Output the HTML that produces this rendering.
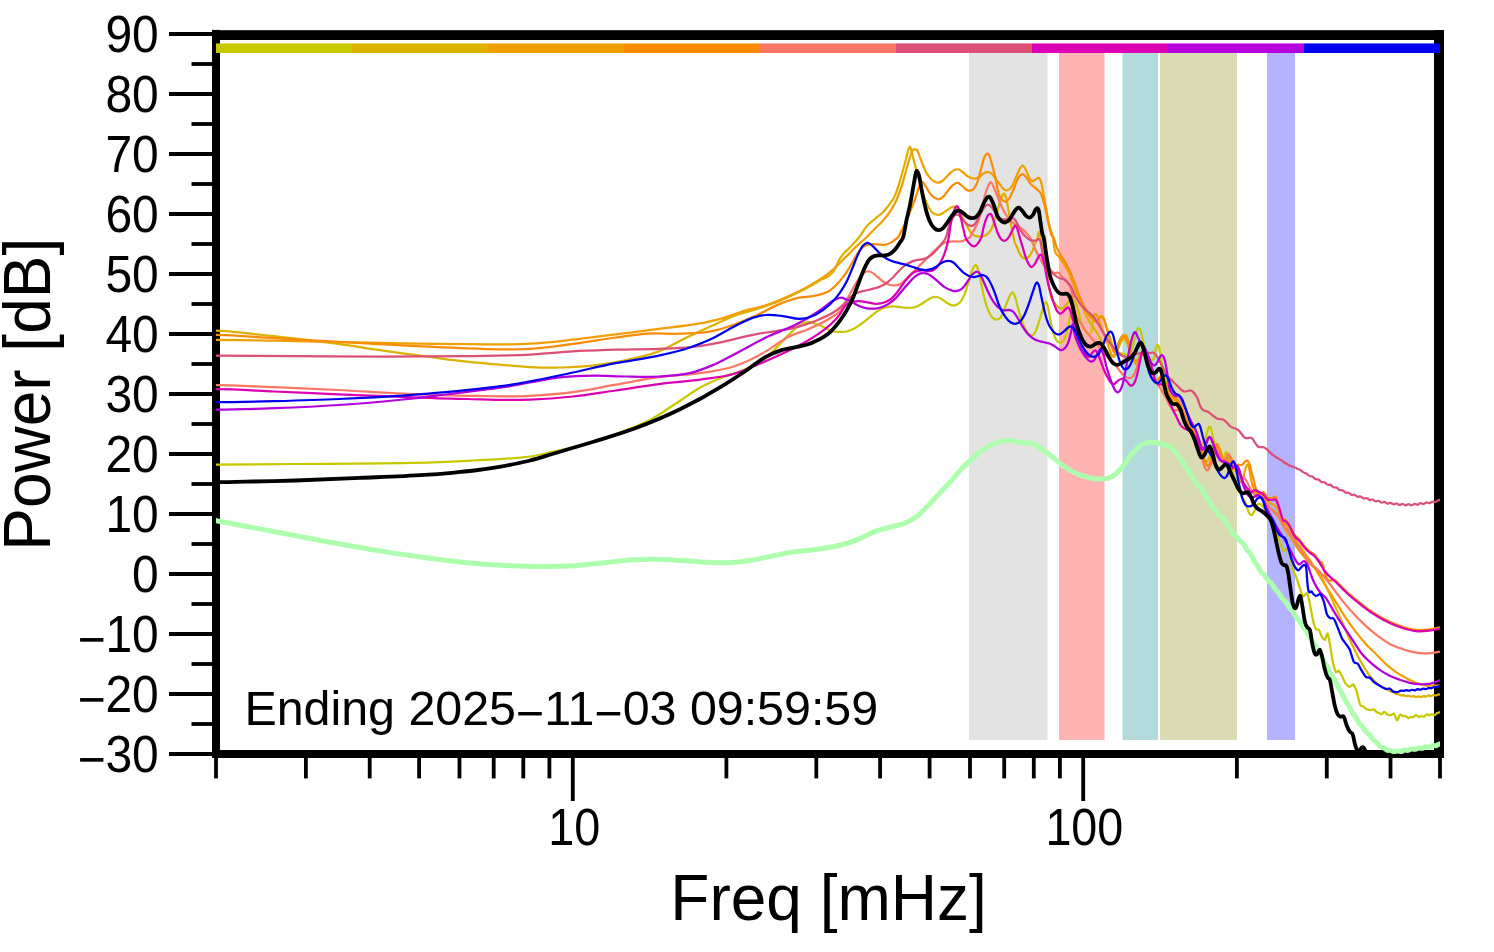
<!DOCTYPE html>
<html lang="en"><head><meta charset="utf-8"><title>Power spectrum</title>
<style>html,body{margin:0;padding:0;background:#fff;}body{width:1494px;height:952px;overflow:hidden;}svg{display:block;}text{font-family:"Liberation Sans",Arial,Helvetica,sans-serif;fill:#000;}</style></head><body>
<svg width="1494" height="952" viewBox="0 0 1494 952">
<rect x="0" y="0" width="1494" height="952" fill="#fff"/>
<g>
<rect x="969.0" y="46" width="78.5" height="694" fill="#e3e3e3"/>
<rect x="1059.0" y="46" width="45.5" height="694" fill="#ffb3b3"/>
<rect x="1122.5" y="46" width="35.5" height="694" fill="#b3dbdb"/>
<rect x="1160.0" y="46" width="77.0" height="694" fill="#dbdbb3"/>
<rect x="1267.0" y="46" width="28.0" height="694" fill="#b3b3ff"/>
</g>
<g fill="#000">
<rect x="212" y="29.9" width="8" height="728.1"/>
<rect x="212" y="30.2" width="1232" height="9.8"/>
<rect x="1434" y="30.2" width="10" height="727.8"/>
<rect x="212" y="750" width="1232" height="8"/>
</g>
<g stroke="#000" stroke-width="3.8" fill="none">
<line x1="169" y1="754.0" x2="214" y2="754.0"/>
<line x1="191.5" y1="724.0" x2="214" y2="724.0"/>
<line x1="169" y1="694.0" x2="214" y2="694.0"/>
<line x1="191.5" y1="664.0" x2="214" y2="664.0"/>
<line x1="169" y1="634.0" x2="214" y2="634.0"/>
<line x1="191.5" y1="604.0" x2="214" y2="604.0"/>
<line x1="169" y1="574.0" x2="214" y2="574.0"/>
<line x1="191.5" y1="544.0" x2="214" y2="544.0"/>
<line x1="169" y1="514.0" x2="214" y2="514.0"/>
<line x1="191.5" y1="484.0" x2="214" y2="484.0"/>
<line x1="169" y1="454.0" x2="214" y2="454.0"/>
<line x1="191.5" y1="424.0" x2="214" y2="424.0"/>
<line x1="169" y1="394.0" x2="214" y2="394.0"/>
<line x1="191.5" y1="364.0" x2="214" y2="364.0"/>
<line x1="169" y1="334.0" x2="214" y2="334.0"/>
<line x1="191.5" y1="304.0" x2="214" y2="304.0"/>
<line x1="169" y1="274.0" x2="214" y2="274.0"/>
<line x1="191.5" y1="244.0" x2="214" y2="244.0"/>
<line x1="169" y1="214.0" x2="214" y2="214.0"/>
<line x1="191.5" y1="184.0" x2="214" y2="184.0"/>
<line x1="169" y1="154.0" x2="214" y2="154.0"/>
<line x1="191.5" y1="124.0" x2="214" y2="124.0"/>
<line x1="169" y1="94.0" x2="214" y2="94.0"/>
<line x1="191.5" y1="64.0" x2="214" y2="64.0"/>
<line x1="169" y1="34.0" x2="214" y2="34.0"/>
<line x1="216.0" y1="756" x2="216.0" y2="778.4"/>
<line x1="305.9" y1="756" x2="305.9" y2="778.4"/>
<line x1="369.7" y1="756" x2="369.7" y2="778.4"/>
<line x1="419.1" y1="756" x2="419.1" y2="778.4"/>
<line x1="459.5" y1="756" x2="459.5" y2="778.4"/>
<line x1="493.7" y1="756" x2="493.7" y2="778.4"/>
<line x1="523.3" y1="756" x2="523.3" y2="778.4"/>
<line x1="549.4" y1="756" x2="549.4" y2="778.4"/>
<line x1="572.8" y1="756" x2="572.8" y2="801"/>
<line x1="726.4" y1="756" x2="726.4" y2="778.4"/>
<line x1="816.3" y1="756" x2="816.3" y2="778.4"/>
<line x1="880.1" y1="756" x2="880.1" y2="778.4"/>
<line x1="929.6" y1="756" x2="929.6" y2="778.4"/>
<line x1="970.0" y1="756" x2="970.0" y2="778.4"/>
<line x1="1004.2" y1="756" x2="1004.2" y2="778.4"/>
<line x1="1033.8" y1="756" x2="1033.8" y2="778.4"/>
<line x1="1059.9" y1="756" x2="1059.9" y2="778.4"/>
<line x1="1083.2" y1="756" x2="1083.2" y2="801"/>
<line x1="1236.9" y1="756" x2="1236.9" y2="778.4"/>
<line x1="1326.8" y1="756" x2="1326.8" y2="778.4"/>
<line x1="1390.5" y1="756" x2="1390.5" y2="778.4"/>
<line x1="1440.0" y1="756" x2="1440.0" y2="778.4"/>
</g>
<g>
<rect x="216" y="43.4" width="136" height="9.6" fill="#c8c800"/>
<rect x="352" y="43.4" width="136" height="9.6" fill="#dcb100"/>
<rect x="488" y="43.4" width="136" height="9.6" fill="#f0a005"/>
<rect x="624" y="43.4" width="136" height="9.6" fill="#fa8c05"/>
<rect x="760" y="43.4" width="136" height="9.6" fill="#fa7864"/>
<rect x="896" y="43.4" width="136" height="9.6" fill="#dc5078"/>
<rect x="1032" y="43.4" width="136" height="9.6" fill="#dc00b4"/>
<rect x="1168" y="43.4" width="136" height="9.6" fill="#b400dc"/>
<rect x="1304" y="43.4" width="136" height="9.6" fill="#0000f0"/>
</g>
<defs><clipPath id="pc"><rect x="216" y="34" width="1224" height="720"/></clipPath></defs>
<g fill="none" stroke-linejoin="round" stroke-linecap="butt" clip-path="url(#pc)">
<path d="M214.3 520.3C215.0 520.4 215.7 520.6 216.4 520.7C228.6 523.1 240.7 525.3 252.8 527.6C267.1 530.2 281.4 533.0 295.7 535.7C310.0 538.4 324.2 541.3 338.5 543.8C352.8 546.4 367.1 548.8 381.4 551.1C395.6 553.4 409.9 555.6 424.2 557.5C438.5 559.5 452.7 561.3 467.0 562.7C481.3 564.0 495.6 565.0 509.9 565.7C519.9 566.1 529.9 566.5 539.9 566.5C551.3 566.6 562.7 566.4 574.1 565.7C584.1 565.0 594.1 563.7 604.1 562.7C612.7 561.8 621.2 560.7 629.8 560.1C638.4 559.5 646.9 559.2 655.5 559.3C664.1 559.3 672.7 560.0 681.2 560.5C689.8 561.0 698.4 561.9 706.9 562.2C714.1 562.5 721.2 563.0 728.3 562.7C735.5 562.4 742.6 561.6 749.8 560.5C756.9 559.5 764.0 557.7 771.2 556.3C778.3 554.8 785.5 553.0 792.6 552.0C798.3 551.1 804.0 551.0 809.7 550.3C815.4 549.5 821.2 548.6 826.9 547.7C831.2 546.9 835.6 546.4 840.0 545.3C845.4 544.0 850.7 542.2 856.1 540.2C862.5 537.7 868.9 533.6 875.3 531.3C880.7 529.4 886.1 528.4 891.4 526.8C896.8 525.3 902.1 524.7 907.5 522.0C911.2 520.1 915.0 517.9 918.7 514.8C922.5 511.7 926.2 507.4 930.0 503.5C933.7 499.7 937.5 495.5 941.2 491.5C945.0 487.5 948.7 483.6 952.4 479.4C955.7 475.8 958.9 471.5 962.1 468.2C965.3 464.8 968.5 462.3 971.7 459.4C974.4 456.9 977.1 454.3 979.8 452.1C983.0 449.6 986.2 447.4 989.4 445.7C992.6 444.0 995.8 442.6 999.0 441.7C1001.7 440.9 1004.4 440.5 1007.1 440.4C1009.2 440.3 1011.4 440.5 1013.5 440.9C1015.6 441.2 1017.8 442.1 1019.9 442.5C1022.1 442.8 1024.2 442.8 1026.3 443.0C1028.5 443.2 1030.6 443.1 1032.8 443.8C1034.9 444.5 1037.1 446.0 1039.2 447.3C1041.9 449.0 1044.6 450.9 1047.2 452.9C1048.2 453.6 1049.1 454.3 1050.0 455.0C1054.3 458.3 1058.6 462.7 1062.9 465.8C1067.1 468.8 1071.4 471.3 1075.7 473.3C1080.0 475.2 1084.3 476.6 1088.6 477.5C1092.9 478.5 1097.2 479.4 1101.4 479.0C1105.0 478.8 1108.6 478.6 1112.2 476.5C1115.0 474.8 1117.9 472.2 1120.7 469.0C1123.6 465.8 1126.4 460.8 1129.3 457.2C1132.2 453.6 1135.0 450.0 1137.9 447.5C1140.7 445.1 1143.6 443.4 1146.5 442.6C1148.6 442.0 1150.7 442.1 1152.9 442.2C1155.7 442.3 1158.6 443.0 1161.5 443.9C1165.0 445.0 1168.6 445.4 1172.2 448.6C1175.0 451.2 1177.9 455.4 1180.7 459.3C1183.6 463.3 1186.5 467.7 1189.3 472.2C1189.8 472.9 1190.3 473.7 1190.7 474.4C1191.2 475.2 1191.7 476.0 1192.2 476.7C1192.7 477.5 1193.1 478.3 1193.6 479.0C1194.1 479.8 1194.6 480.5 1195.0 481.2C1195.5 481.9 1196.0 482.7 1196.5 483.3C1196.9 484.0 1197.4 484.6 1197.9 485.2C1198.6 486.0 1199.3 486.3 1200.0 487.1C1200.5 487.6 1200.9 488.1 1201.4 488.7C1201.9 489.4 1202.3 490.2 1202.8 491.0C1203.3 491.8 1203.7 492.7 1204.2 493.6C1204.7 494.4 1205.1 495.3 1205.6 496.1C1206.1 496.9 1206.5 497.6 1207.0 498.3C1207.5 499.0 1207.9 499.6 1208.4 500.3C1208.9 501.0 1209.3 501.7 1209.8 502.5C1210.3 503.3 1210.7 504.2 1211.2 505.0C1211.7 505.7 1212.1 506.4 1212.6 507.1C1213.1 507.7 1213.5 508.1 1214.0 508.7C1214.5 509.2 1214.9 509.6 1215.4 510.2C1215.9 510.8 1216.3 511.5 1216.8 512.1C1217.3 512.8 1217.7 513.6 1218.2 514.2C1218.7 514.7 1219.1 515.2 1219.6 515.6C1220.1 515.9 1220.5 516.1 1221.0 516.3C1221.5 516.6 1221.9 516.8 1222.4 517.2C1222.9 517.7 1223.3 518.2 1223.8 518.9C1224.3 519.5 1224.7 520.3 1225.2 521.0C1225.7 521.8 1226.1 522.5 1226.6 523.1C1227.1 523.8 1227.5 524.3 1228.0 524.9C1228.5 525.6 1228.9 526.2 1229.4 527.0C1229.9 527.8 1230.3 528.8 1230.8 529.7C1231.3 530.6 1231.7 531.7 1232.2 532.5C1232.7 533.3 1233.1 534.0 1233.6 534.6C1234.1 535.1 1234.5 535.4 1235.0 535.7C1235.5 536.1 1235.9 536.3 1236.4 536.8C1236.9 537.2 1237.3 537.7 1237.8 538.3C1238.3 538.8 1238.7 539.5 1239.2 540.0C1239.7 540.6 1240.1 541.0 1240.6 541.4C1241.1 541.8 1241.5 542.1 1242.0 542.5C1242.5 542.9 1242.9 543.3 1243.4 543.9C1243.9 544.4 1244.3 545.2 1244.8 546.0C1245.3 546.7 1245.7 547.7 1246.2 548.4C1246.7 549.2 1247.1 549.9 1247.6 550.5C1248.1 551.2 1248.5 551.6 1249.0 552.1C1249.5 552.7 1249.9 553.2 1250.4 553.9C1250.9 554.7 1251.5 555.7 1252.0 556.7C1252.5 557.7 1253.1 559.0 1253.6 559.9C1254.1 560.9 1254.7 561.7 1255.2 562.5C1255.7 563.3 1256.3 563.9 1256.8 564.6C1257.3 565.4 1257.9 566.3 1258.4 567.3C1258.9 568.2 1259.4 569.4 1260.0 570.3C1260.5 571.0 1260.9 571.8 1261.4 572.4C1261.9 572.9 1262.4 573.3 1262.8 573.7C1263.3 574.1 1263.8 574.4 1264.3 575.0C1264.7 575.5 1265.2 576.1 1265.7 576.8C1266.2 577.4 1266.6 578.3 1267.1 578.9C1267.6 579.6 1268.1 580.2 1268.5 580.7C1269.0 581.2 1269.5 581.5 1270.0 581.9C1270.4 582.4 1270.9 582.8 1271.4 583.3C1271.9 583.9 1272.3 584.7 1272.8 585.4C1273.3 586.2 1273.8 587.1 1274.2 587.8C1274.7 588.5 1275.2 589.2 1275.7 589.7C1276.1 590.3 1276.6 590.6 1277.1 591.1C1277.6 591.6 1278.0 592.0 1278.5 592.6C1279.0 593.3 1279.5 594.0 1279.9 594.8C1280.4 595.6 1280.9 596.5 1281.4 597.2C1281.8 597.9 1282.3 598.5 1282.8 599.0C1283.3 599.5 1283.7 599.8 1284.2 600.3C1284.7 600.8 1285.2 601.2 1285.6 601.8C1286.1 602.5 1286.6 603.3 1287.1 604.0C1287.5 604.8 1288.0 605.7 1288.5 606.4C1289.0 607.1 1289.4 607.7 1289.9 608.2C1290.4 608.8 1290.9 609.1 1291.3 609.7C1291.8 610.2 1292.3 610.7 1292.8 611.4C1293.2 612.1 1293.7 612.9 1294.2 613.7C1294.7 614.5 1295.1 615.5 1295.6 616.2C1296.1 616.9 1296.6 617.5 1297.0 618.1C1297.5 618.7 1298.0 619.0 1298.5 619.6C1298.9 620.2 1299.4 620.7 1299.9 621.5C1300.4 622.2 1300.9 623.1 1301.3 624.0C1301.8 624.8 1302.3 625.7 1302.8 626.5C1303.2 627.2 1303.7 627.8 1304.2 628.4C1304.7 629.0 1305.1 629.4 1305.6 630.0C1306.1 630.6 1306.6 631.2 1307.0 632.0C1307.5 632.8 1308.0 633.8 1308.5 634.7C1308.9 635.6 1309.4 636.5 1309.9 637.3C1310.4 638.1 1310.8 638.7 1311.3 639.4C1311.8 640.0 1312.3 640.5 1312.7 641.2C1313.2 641.9 1313.7 642.7 1314.2 643.6C1314.6 644.4 1315.1 645.5 1315.6 646.5C1316.1 647.5 1316.5 648.5 1317.0 649.3C1317.5 650.1 1318.0 650.8 1318.4 651.5C1318.9 652.2 1319.4 652.7 1319.9 653.5C1320.3 654.2 1320.8 655.1 1321.3 656.0C1321.8 656.9 1322.2 658.1 1322.7 659.0C1323.2 660.0 1323.7 661.1 1324.1 661.9C1324.6 662.8 1325.1 663.4 1325.6 664.1C1326.0 664.9 1326.5 665.5 1327.0 666.2C1327.5 667.0 1327.9 667.9 1328.4 668.9C1328.9 669.9 1329.4 671.0 1329.8 672.0C1330.3 673.0 1330.8 674.0 1331.3 674.8C1331.7 675.6 1332.2 676.3 1332.7 677.0C1333.2 677.7 1333.6 678.3 1334.1 679.1C1334.6 679.9 1335.1 680.8 1335.5 681.8C1336.0 682.7 1336.5 683.9 1337.0 684.9C1337.4 685.9 1337.9 686.8 1338.4 687.6C1338.9 688.4 1339.3 689.0 1339.8 689.8C1340.3 690.5 1340.8 691.1 1341.2 691.9C1341.7 692.7 1342.2 693.7 1342.7 694.7C1343.1 695.7 1343.6 696.9 1344.1 697.9C1344.6 698.8 1345.0 699.8 1345.5 700.6C1346.0 701.4 1346.5 702.0 1346.9 702.7C1347.4 703.4 1347.9 704.0 1348.4 704.8C1348.8 705.6 1349.3 706.6 1349.8 707.5C1350.3 708.5 1350.8 709.6 1351.2 710.5C1351.7 711.4 1352.2 712.2 1352.7 712.9C1353.1 713.7 1353.6 714.2 1354.1 714.8C1354.6 715.5 1355.0 716.0 1355.5 716.8C1356.0 717.5 1356.5 718.5 1356.9 719.3C1357.4 720.2 1357.9 721.2 1358.4 722.0C1358.8 722.8 1359.3 723.5 1359.8 724.1C1360.3 724.6 1360.7 725.0 1361.2 725.5C1361.7 726.0 1362.2 726.4 1362.6 727.0C1363.1 727.6 1363.6 728.4 1364.1 729.1C1364.5 729.8 1365.0 730.7 1365.5 731.3C1366.0 731.9 1366.4 732.4 1366.9 732.8C1367.4 733.3 1367.9 733.5 1368.3 733.9C1368.8 734.3 1369.3 734.7 1369.8 735.2C1370.2 735.8 1370.7 736.5 1371.2 737.2C1371.7 737.9 1372.1 738.6 1372.6 739.2C1373.1 739.8 1373.6 740.2 1374.0 740.6C1374.5 741.0 1375.0 741.2 1375.5 741.6C1375.9 741.9 1376.4 742.3 1376.9 742.8C1377.4 743.3 1377.8 744.0 1378.3 744.5C1378.8 745.1 1379.3 745.7 1379.7 746.1C1380.2 746.5 1380.7 746.7 1381.2 746.9C1381.6 747.1 1382.1 747.1 1382.6 747.3C1383.1 747.5 1383.5 747.6 1384.0 748.0C1384.5 748.3 1385.0 748.8 1385.4 749.1C1385.9 749.5 1386.4 749.9 1386.9 750.1C1387.3 750.3 1387.8 750.4 1388.3 750.4C1388.8 750.4 1389.2 750.3 1389.7 750.3C1390.2 750.3 1390.7 750.4 1391.1 750.6C1391.6 750.7 1392.1 751.1 1392.6 751.3C1393.0 751.5 1393.5 751.7 1394.0 751.8C1394.5 751.8 1394.9 751.6 1395.4 751.5C1395.9 751.4 1396.4 751.1 1396.8 751.0C1397.3 750.9 1397.8 750.9 1398.3 750.9C1398.8 751.0 1399.2 751.3 1399.7 751.4C1400.2 751.5 1400.7 751.6 1401.1 751.6C1401.6 751.5 1402.1 751.3 1402.6 751.0C1403.0 750.8 1403.5 750.5 1404.0 750.3C1404.5 750.2 1404.9 750.1 1405.4 750.1C1405.9 750.1 1406.4 750.3 1406.8 750.3C1407.3 750.4 1407.8 750.4 1408.3 750.3C1408.7 750.2 1409.2 749.9 1409.7 749.7C1410.2 749.5 1410.6 749.1 1411.1 749.0C1411.6 748.9 1412.1 748.9 1412.5 748.9C1413.0 749.0 1413.5 749.2 1414.0 749.3C1414.4 749.3 1414.9 749.4 1415.4 749.3C1415.9 749.2 1416.3 748.9 1416.8 748.7C1417.3 748.4 1417.8 748.1 1418.2 748.0C1418.7 747.9 1419.2 747.9 1419.7 748.0C1420.1 748.0 1420.6 748.3 1421.1 748.3C1421.6 748.4 1422.0 748.4 1422.5 748.2C1423.0 748.1 1423.5 747.8 1423.9 747.6C1424.4 747.3 1424.9 747.1 1425.4 746.9C1425.8 746.8 1426.3 746.9 1426.8 747.0C1427.3 747.0 1427.7 747.2 1428.2 747.2C1428.7 747.3 1429.2 747.2 1429.6 747.0C1430.2 746.9 1430.7 746.4 1431.2 746.2C1431.7 745.9 1432.3 745.6 1432.8 745.5C1433.3 745.4 1433.8 745.6 1434.3 745.6C1434.9 745.6 1435.4 745.8 1435.9 745.7C1436.4 745.5 1437.0 745.2 1437.5 745.0C1438.0 744.7 1438.5 744.2 1439.1 744.0C1439.6 743.8 1440.1 743.9 1440.6 743.8" stroke="#adffad" stroke-width="5.0"/>
<path d="M214.3 464.6C214.9 464.6 215.4 464.6 216.0 464.6C242.6 464.6 269.2 464.2 295.7 464.0C324.3 463.7 352.9 463.8 381.5 463.3C402.9 463.0 424.3 462.7 445.8 461.8C460.1 461.3 474.3 460.6 488.6 459.7C502.4 458.8 516.2 458.6 530.0 456.5C537.1 455.3 544.3 453.7 551.4 452.2C562.2 449.9 572.9 447.7 583.6 444.7C594.3 441.6 605.0 437.9 615.7 434.0C626.5 430.0 637.2 426.6 647.9 421.1C658.6 415.6 669.3 407.6 680.0 400.7C687.2 396.1 694.3 390.7 701.5 386.8C708.6 382.9 715.8 380.0 722.9 377.2C730.0 374.3 737.2 372.9 744.3 369.7C751.5 366.5 758.6 363.4 765.8 357.9C772.9 352.3 780.1 343.2 787.2 336.4C791.5 332.4 795.8 327.0 800.1 324.7C802.9 323.1 805.8 322.2 808.6 322.1C812.2 322.0 815.8 324.0 819.4 325.3C824.4 327.1 829.4 331.1 834.4 331.7C836.2 332.0 838.1 331.9 840.0 331.8C842.1 331.8 844.3 332.0 846.4 331.5C848.6 331.1 850.7 330.2 852.9 329.2C855.7 327.8 858.6 325.9 861.4 323.8C864.3 321.8 867.1 319.1 870.0 316.8C872.9 314.6 875.7 312.1 878.6 310.4C881.1 309.0 883.6 307.9 886.1 307.2C888.6 306.5 891.1 306.4 893.6 306.4C896.1 306.4 898.6 306.9 901.1 307.2C903.6 307.4 906.1 308.0 908.6 307.9C910.7 307.9 912.9 307.9 915.0 307.2C917.2 306.5 919.3 305.2 921.4 304.0C923.6 302.7 925.7 300.9 927.9 299.7C929.7 298.7 931.4 297.6 933.2 297.2C934.7 296.9 936.1 296.7 937.5 297.0C939.0 297.3 940.4 298.3 941.8 299.2C943.6 300.2 945.4 301.9 947.2 302.9C948.6 303.7 950.0 304.7 951.5 305.1C952.9 305.4 954.3 305.5 955.7 305.1C957.2 304.6 958.6 304.1 960.0 302.4C961.5 300.7 962.9 298.3 964.3 294.9C965.7 291.5 967.2 286.6 968.6 282.0C969.7 278.6 970.7 274.1 971.8 271.3C972.7 269.0 973.6 266.9 974.5 265.9C975.0 265.4 975.6 264.7 976.1 265.1C976.6 265.4 977.2 266.6 977.7 268.1C978.6 270.6 979.5 275.8 980.4 279.9C981.5 284.7 982.5 290.4 983.6 294.9C984.7 299.3 985.7 303.4 986.8 306.7C987.9 309.9 989.0 312.2 990.0 314.2C991.5 316.8 992.9 318.2 994.3 319.0C995.4 319.6 996.5 319.8 997.5 319.5C998.6 319.2 999.7 318.8 1000.7 317.4C1002.1 315.5 1003.6 311.1 1005.0 307.7C1006.4 304.3 1007.9 299.9 1009.3 297.0C1010.0 295.6 1010.7 293.9 1011.4 293.3C1012.0 292.8 1012.5 292.4 1013.0 292.7C1013.8 293.2 1014.5 294.9 1015.2 297.0C1016.1 299.6 1017.0 304.4 1017.9 307.7C1018.9 311.7 1020.0 315.3 1021.1 318.4C1022.5 322.7 1023.9 326.5 1025.4 329.2C1026.8 331.8 1028.2 333.6 1029.7 334.5C1030.7 335.2 1031.8 335.8 1032.9 335.1C1033.9 334.3 1035.0 332.6 1036.1 330.2C1037.2 327.8 1038.2 324.0 1039.3 320.6C1040.4 317.2 1041.4 313.2 1042.5 309.9C1043.2 307.6 1043.9 304.6 1044.7 303.4C1045.2 302.6 1045.7 301.8 1046.3 302.4C1046.8 302.9 1047.3 304.6 1047.9 306.7C1048.6 309.4 1049.3 314.9 1050.0 318.4C1050.7 322.0 1051.4 325.2 1052.2 328.1C1052.9 330.9 1053.6 333.6 1054.3 335.6C1055.2 338.1 1056.1 339.9 1057.0 341.0C1057.9 342.1 1058.7 342.4 1059.6 342.5C1060.7 342.7 1061.9 342.3 1063.0 341.0C1063.7 340.3 1064.3 339.5 1065.0 338.0C1065.7 336.4 1066.5 334.3 1067.2 331.3C1067.9 328.4 1068.6 324.2 1069.3 320.6C1069.9 317.7 1070.4 314.7 1071.0 312.0C1071.7 308.8 1072.3 304.9 1073.0 303.0C1073.5 301.6 1074.0 300.5 1074.5 300.5C1075.2 300.5 1075.8 303.1 1076.5 305.0C1077.3 307.4 1078.2 311.3 1079.0 314.2C1080.1 318.0 1081.1 322.1 1082.2 324.9C1083.6 328.6 1085.0 330.9 1086.4 332.4C1087.5 333.6 1088.6 335.1 1089.7 334.0C1090.3 333.4 1090.8 333.5 1091.4 331.0C1091.9 328.7 1092.5 322.7 1093.0 320.0C1093.9 315.4 1094.8 315.0 1095.7 314.5C1096.6 314.0 1097.5 317.1 1098.4 317.1C1098.9 317.1 1099.5 316.3 1100.0 316.1C1100.5 315.9 1101.1 315.6 1101.6 315.9C1102.5 316.4 1103.4 318.4 1104.3 320.4C1105.4 322.8 1106.4 326.8 1107.5 330.0C1108.6 333.2 1109.6 336.7 1110.7 339.7C1111.8 342.7 1112.8 346.1 1113.9 348.2C1115.3 351.0 1116.8 351.6 1118.2 352.5C1119.6 353.4 1121.1 353.2 1122.5 353.6C1123.9 354.0 1125.4 355.2 1126.8 354.7C1128.2 354.2 1129.7 353.5 1131.1 350.4C1132.2 348.1 1133.2 344.5 1134.3 340.7C1135.2 337.5 1136.1 332.0 1137.0 330.0C1137.5 328.8 1138.1 328.1 1138.6 328.1C1139.3 328.1 1140.0 329.2 1140.7 331.1C1141.6 333.5 1142.5 339.4 1143.4 342.9C1144.3 346.3 1145.1 349.6 1146.0 352.0C1147.0 354.8 1148.0 356.6 1149.0 358.0C1149.8 359.1 1150.6 359.9 1151.4 360.0C1152.3 360.1 1153.2 360.6 1154.1 357.9C1154.8 355.7 1155.6 349.5 1156.3 347.2C1156.8 345.8 1157.2 344.5 1157.7 344.5C1158.3 344.5 1158.9 346.4 1159.5 349.3C1160.0 351.9 1160.6 356.9 1161.1 360.0C1161.8 364.1 1162.5 366.5 1163.2 369.7C1164.1 373.9 1165.1 378.1 1166.0 382.0C1167.0 386.2 1168.0 390.7 1169.0 394.0C1170.0 397.3 1171.0 400.2 1172.0 402.0C1173.3 404.5 1174.7 403.7 1176.0 405.0C1177.3 406.3 1178.7 407.5 1180.0 410.0C1181.3 412.5 1182.7 417.0 1184.0 420.0C1185.3 423.0 1186.7 425.8 1188.0 428.0C1189.3 430.2 1190.7 431.0 1192.0 433.0C1193.3 435.0 1194.7 437.7 1196.0 440.0C1197.3 442.3 1198.7 446.8 1200.0 447.0C1201.0 447.2 1202.0 445.7 1203.0 444.0C1203.9 442.5 1204.8 440.8 1205.7 437.9C1206.4 435.6 1207.2 431.2 1207.9 429.3C1208.4 427.9 1209.0 426.6 1209.5 426.6C1210.0 426.6 1210.6 427.8 1211.1 429.3C1211.8 431.2 1212.5 435.1 1213.2 437.9C1214.0 441.0 1214.7 444.2 1215.5 447.0C1216.3 450.0 1217.2 453.0 1218.0 455.0C1219.0 457.4 1220.0 458.7 1221.0 459.0C1222.0 459.3 1223.0 458.8 1224.0 457.0C1224.7 455.8 1225.3 452.2 1226.0 452.0C1226.7 451.8 1227.3 454.3 1228.0 456.0C1229.0 458.5 1230.0 462.7 1231.0 466.0C1232.0 469.3 1233.0 472.7 1234.0 476.0C1235.0 479.3 1236.0 483.2 1237.0 486.0C1238.0 488.8 1239.0 490.8 1240.0 493.0C1240.7 494.5 1241.3 495.9 1242.0 497.2C1243.1 499.3 1244.2 499.7 1245.4 502.2C1246.5 504.8 1247.6 510.2 1248.7 512.3C1249.8 514.4 1251.0 515.6 1252.1 514.8C1252.9 514.3 1253.8 512.2 1254.6 510.6C1255.7 508.6 1256.8 504.9 1258.0 503.9C1259.1 502.9 1260.2 503.9 1261.3 504.8C1263.3 506.2 1265.2 510.5 1267.2 514.0C1268.9 517.0 1270.6 520.7 1272.2 524.1C1273.9 527.4 1275.6 529.8 1277.3 534.2C1278.4 537.1 1279.5 541.4 1280.6 544.2C1281.8 547.0 1282.9 550.1 1284.0 551.0C1285.1 551.8 1286.2 547.9 1287.4 549.3C1288.5 550.7 1289.6 555.4 1290.7 559.4C1291.8 563.3 1293.0 570.6 1294.1 572.8C1294.4 573.3 1294.6 573.5 1294.9 574.0C1295.9 575.7 1296.9 579.3 1297.9 582.0C1299.6 586.5 1301.2 593.8 1302.9 595.9C1304.6 598.1 1306.2 589.7 1307.9 595.0C1308.5 597.1 1309.2 600.7 1309.9 603.9C1310.9 608.8 1311.9 615.7 1312.9 619.9C1313.9 624.1 1314.9 627.2 1315.9 628.9C1316.9 630.5 1317.9 628.5 1318.9 629.9C1319.9 631.2 1320.9 635.2 1321.9 636.9C1322.9 638.5 1323.9 640.4 1324.9 639.9C1325.8 639.4 1326.8 631.7 1327.8 633.9C1328.5 635.3 1329.2 640.3 1329.8 643.9C1330.8 649.2 1331.8 657.2 1332.8 661.8C1333.8 666.5 1334.8 670.3 1335.8 671.8C1336.8 673.3 1337.8 670.1 1338.8 670.8C1339.8 671.5 1340.8 674.0 1341.8 675.8C1343.1 678.2 1344.5 681.9 1345.8 683.8C1347.1 685.6 1348.5 686.6 1349.8 686.8C1351.1 686.9 1352.5 682.9 1353.8 684.8C1354.3 685.5 1354.8 686.8 1355.3 688.0C1355.8 689.1 1356.3 690.1 1356.8 691.7C1357.3 693.4 1357.8 695.9 1358.3 697.9C1358.8 699.9 1359.3 702.5 1359.8 703.8C1360.2 705.0 1360.7 705.5 1361.1 705.9C1361.6 706.3 1362.0 706.0 1362.4 706.1C1362.9 706.3 1363.3 706.3 1363.8 706.6C1364.2 706.9 1364.7 707.6 1365.1 708.0C1365.5 708.4 1366.0 708.8 1366.4 709.1C1366.9 709.3 1367.3 709.4 1367.8 709.5C1368.3 709.6 1368.8 709.7 1369.3 709.8C1369.8 710.0 1370.3 710.2 1370.8 710.2C1371.3 710.1 1371.8 709.8 1372.3 709.6C1372.8 709.5 1373.3 709.1 1373.8 709.3C1374.3 709.5 1374.8 710.2 1375.2 710.7C1375.7 711.2 1376.2 711.9 1376.7 712.2C1377.2 712.5 1377.7 712.4 1378.2 712.6C1378.7 712.8 1379.2 713.1 1379.7 713.4C1380.2 713.6 1380.7 714.2 1381.2 714.2C1381.7 714.2 1382.2 713.7 1382.7 713.3C1383.2 712.9 1383.7 712.0 1384.2 711.9C1384.7 711.9 1385.2 712.4 1385.7 712.8C1386.2 713.2 1386.6 714.0 1387.1 714.4C1387.5 714.7 1387.9 714.7 1388.4 714.9C1388.8 715.0 1389.3 715.0 1389.7 715.0C1390.2 715.1 1390.6 715.2 1391.1 715.1C1391.5 715.0 1391.9 714.7 1392.4 714.4C1392.8 714.1 1393.3 713.3 1393.7 713.6C1394.2 713.8 1394.7 715.2 1395.2 716.3C1395.7 717.4 1396.2 719.7 1396.7 720.1C1397.2 720.5 1397.7 719.5 1398.2 718.6C1398.7 717.8 1399.2 715.7 1399.7 715.1C1400.2 714.5 1400.7 714.7 1401.2 714.9C1401.7 715.0 1402.2 715.9 1402.7 716.1C1403.2 716.3 1403.7 716.1 1404.2 716.1C1404.7 716.1 1405.2 715.8 1405.7 716.0C1406.1 716.2 1406.6 716.9 1407.0 717.3C1407.5 717.6 1407.9 718.1 1408.3 718.2C1408.8 718.2 1409.2 717.7 1409.7 717.5C1410.2 717.3 1410.7 716.9 1411.2 716.8C1411.7 716.8 1412.2 717.3 1412.7 717.2C1413.2 717.2 1413.7 716.9 1414.2 716.5C1414.7 716.2 1415.2 715.2 1415.7 715.1C1416.2 714.9 1416.7 715.3 1417.2 715.6C1417.7 715.9 1418.2 716.8 1418.7 716.9C1419.2 717.1 1419.7 716.6 1420.2 716.5C1420.7 716.4 1421.2 716.0 1421.7 716.0C1422.2 716.1 1422.7 716.7 1423.2 716.7C1423.7 716.8 1424.2 716.6 1424.7 716.3C1425.1 715.9 1425.6 714.9 1426.1 714.6C1426.6 714.3 1427.1 714.3 1427.6 714.4C1428.1 714.6 1428.6 715.3 1429.1 715.3C1429.6 715.4 1430.1 714.9 1430.6 714.8C1431.1 714.6 1431.6 714.1 1432.1 714.2C1432.6 714.2 1433.1 714.9 1433.6 715.0C1434.2 715.1 1434.7 715.1 1435.3 714.7C1435.9 714.4 1436.4 713.3 1437.0 713.0C1437.5 712.6 1438.1 712.9 1438.6 712.7C1439.3 712.5 1440.0 712.1 1440.6 711.8" stroke="#c8c800" stroke-width="2.25"/>
<path d="M214.3 330.6C214.9 330.6 215.4 330.6 216.0 330.6C228.3 330.7 240.6 332.7 252.9 333.9C267.2 335.3 281.4 336.9 295.7 338.6C310.0 340.3 324.3 342.0 338.6 343.9C352.9 345.9 367.2 348.3 381.5 350.4C395.8 352.4 410.0 354.3 424.3 356.2C438.6 358.0 452.9 360.2 467.2 361.7C477.9 362.9 488.6 363.8 499.4 364.7C509.6 365.6 519.8 366.6 530.0 367.1C540.7 367.6 551.4 367.8 562.2 367.5C572.9 367.2 583.6 366.6 594.3 365.4C605.0 364.1 615.7 362.3 626.5 360.0C637.2 357.7 647.9 355.6 658.6 351.4C669.3 347.3 680.0 340.4 690.8 335.4C697.9 332.0 705.0 328.9 712.2 325.7C719.3 322.5 726.5 318.8 733.6 316.1C740.8 313.4 747.9 312.0 755.1 309.7C762.2 307.3 769.3 305.0 776.5 302.2C783.6 299.3 790.8 296.1 797.9 292.5C805.1 288.9 812.2 285.3 819.4 280.7C824.4 277.5 829.4 278.4 834.4 270.0C836.2 266.8 838.1 261.6 840.0 258.4C843.2 253.0 846.4 251.3 849.6 247.7C852.9 244.1 856.1 241.2 859.3 237.0C861.8 233.7 864.3 229.1 866.8 226.1C869.6 222.7 872.5 221.1 875.4 218.6C877.9 216.4 880.4 214.7 882.9 212.2C885.0 210.0 887.2 207.7 889.3 204.7C891.1 202.2 892.9 200.1 894.7 196.1C896.1 192.9 897.5 188.8 898.9 184.3C900.4 179.8 901.8 174.4 903.2 169.3C904.3 165.4 905.4 161.4 906.4 157.5C907.3 154.3 908.2 149.4 909.1 147.9C909.5 147.2 909.8 146.5 910.2 146.8C910.7 147.2 911.3 150.2 911.8 152.1C912.5 154.7 913.2 157.9 913.9 160.7C914.7 163.6 915.4 166.5 916.1 169.3C917.2 173.4 918.2 177.3 919.3 181.1C920.7 186.1 922.2 190.8 923.6 195.0C924.7 198.1 925.7 201.1 926.8 203.6C928.2 206.8 929.7 209.3 931.1 211.1C932.5 212.9 933.9 213.7 935.4 214.3C936.5 214.7 937.5 214.9 938.6 214.8C940.0 214.7 941.5 214.0 942.9 213.2C944.3 212.4 945.7 211.0 947.2 210.0C948.6 209.0 950.0 207.9 951.5 207.3C952.5 206.9 953.6 206.5 954.7 206.8C955.7 207.1 956.8 207.7 957.9 208.9C959.3 210.6 960.7 213.8 962.2 216.4C963.6 219.1 965.0 222.3 966.5 225.0C967.9 227.7 969.3 230.7 970.7 232.5C972.2 234.3 973.6 235.1 975.0 235.7C976.5 236.4 977.9 236.5 979.3 236.6C980.7 236.7 982.2 236.8 983.6 236.3C985.4 235.6 987.2 234.8 989.0 232.5C990.4 230.7 991.8 228.8 993.2 225.0C994.5 221.7 995.7 216.3 997.0 212.2C998.2 208.0 999.5 203.2 1000.7 200.0C1001.8 197.2 1002.9 193.2 1003.9 193.6C1004.6 193.9 1005.4 195.4 1006.1 197.9C1006.8 200.4 1007.5 204.7 1008.2 208.6C1008.9 212.5 1009.6 217.5 1010.4 221.4C1011.1 225.4 1011.8 228.7 1012.5 232.2C1013.2 235.6 1013.9 239.6 1014.6 242.0C1015.4 244.4 1016.1 245.1 1016.8 246.6C1017.9 249.0 1018.9 252.3 1020.0 254.1C1021.1 256.0 1022.2 257.2 1023.2 257.9C1024.3 258.6 1025.4 258.8 1026.4 258.4C1027.5 258.1 1028.6 257.2 1029.7 255.8C1030.7 254.3 1031.8 252.3 1032.9 249.9C1033.9 247.4 1035.0 244.1 1036.1 241.3C1036.6 239.9 1037.2 239.0 1037.7 237.0C1038.1 235.7 1038.4 232.9 1038.8 232.2C1039.7 230.6 1040.5 237.9 1041.4 242.0C1042.4 246.5 1043.3 252.9 1044.3 258.6C1045.2 263.9 1046.1 269.8 1047.0 275.0C1048.4 282.9 1049.7 292.5 1051.1 297.0C1052.2 300.5 1053.2 300.8 1054.3 302.4C1055.7 304.5 1057.2 306.7 1058.6 307.7C1060.0 308.7 1061.5 309.0 1062.9 308.3C1064.3 307.6 1065.8 305.3 1067.2 303.5C1068.3 302.2 1069.3 300.3 1070.4 299.2C1071.6 298.0 1072.8 297.1 1074.0 297.0C1075.0 296.9 1076.0 297.3 1077.0 298.0C1078.2 298.8 1079.5 299.8 1080.7 302.0C1082.1 304.5 1083.6 309.7 1085.0 312.9C1086.4 316.1 1087.9 318.9 1089.3 321.4C1090.7 323.9 1092.2 325.8 1093.6 327.9C1095.0 330.1 1096.5 331.8 1097.9 334.3C1099.3 336.8 1100.8 340.2 1102.2 342.9C1103.6 345.5 1105.0 348.4 1106.4 350.4C1107.8 352.4 1109.3 353.5 1110.7 354.7C1111.8 355.6 1112.8 357.3 1113.9 356.8C1114.9 356.3 1116.0 354.2 1117.0 352.0C1118.0 349.9 1119.0 346.2 1120.0 344.0C1121.0 341.8 1122.0 339.5 1123.0 339.0C1124.0 338.5 1125.0 339.5 1126.0 341.0C1127.0 342.5 1128.0 345.5 1129.0 348.0C1130.0 350.5 1131.0 353.8 1132.0 356.0C1133.0 358.2 1134.0 360.5 1135.0 361.0C1136.0 361.5 1137.0 360.3 1138.0 359.0C1139.0 357.7 1140.0 354.2 1141.0 353.0C1142.0 351.8 1143.0 350.8 1144.0 352.0C1145.0 353.2 1146.0 357.0 1147.0 360.0C1148.0 363.0 1149.0 367.0 1150.0 370.0C1151.0 373.0 1152.0 376.2 1153.0 378.0C1154.0 379.8 1155.0 381.0 1156.0 381.0C1157.0 381.0 1158.0 378.7 1159.0 378.0C1160.0 377.3 1161.0 376.0 1162.0 377.0C1163.0 378.0 1164.0 381.3 1165.0 384.0C1166.0 386.7 1167.0 390.8 1168.0 393.0C1169.3 396.0 1170.7 396.8 1172.0 398.0C1173.3 399.2 1174.7 398.7 1176.0 400.0C1177.3 401.3 1178.7 403.3 1180.0 406.0C1181.3 408.7 1182.7 413.0 1184.0 416.0C1185.3 419.0 1186.7 421.7 1188.0 424.0C1189.3 426.3 1190.7 427.8 1192.0 430.0C1193.3 432.2 1194.7 434.0 1196.0 437.0C1197.3 440.0 1198.7 444.1 1200.0 448.0C1201.0 450.9 1202.0 454.7 1203.0 457.0C1204.0 459.3 1205.0 461.8 1206.0 462.0C1207.0 462.2 1208.0 460.0 1209.0 458.0C1210.0 456.0 1211.0 452.0 1212.0 450.0C1213.0 448.0 1214.0 446.0 1215.0 446.0C1216.0 446.0 1217.0 448.2 1218.0 450.0C1219.0 451.8 1220.0 455.2 1221.0 457.0C1222.0 458.8 1223.0 460.7 1224.0 461.0C1225.0 461.3 1226.0 458.8 1227.0 459.0C1228.0 459.2 1229.0 460.8 1230.0 462.0C1231.3 463.6 1232.7 466.0 1234.0 468.0C1235.3 470.0 1236.7 472.0 1238.0 474.0C1239.3 476.0 1240.7 477.8 1242.0 480.0C1243.3 482.2 1244.7 485.0 1246.0 487.0C1247.3 489.0 1248.7 491.2 1250.0 492.0C1251.3 492.8 1252.7 491.8 1254.0 492.0C1255.3 492.2 1256.7 492.3 1258.0 493.0C1259.3 493.7 1260.7 494.5 1262.0 496.0C1263.3 497.5 1264.7 500.0 1266.0 502.0C1267.3 504.0 1268.7 506.3 1270.0 508.0C1271.7 510.1 1273.3 511.1 1275.0 513.0C1276.3 514.5 1277.7 515.8 1279.0 518.0C1280.3 520.2 1281.7 523.7 1283.0 526.0C1284.3 528.3 1285.7 530.0 1287.0 532.0C1288.3 534.0 1289.7 535.9 1291.0 538.0C1292.7 540.6 1294.3 543.5 1296.0 546.0C1297.7 548.5 1299.3 550.8 1301.0 553.0C1302.7 555.2 1304.3 557.0 1306.0 559.0C1307.7 561.0 1309.3 563.3 1311.0 565.0C1313.0 567.0 1314.9 567.6 1316.9 570.0C1320.2 574.0 1323.5 581.3 1326.8 588.0C1329.8 594.0 1332.8 601.2 1335.8 607.9C1338.5 613.9 1341.2 619.9 1343.8 625.9C1346.5 631.9 1349.1 638.2 1351.8 643.9C1354.5 649.5 1357.1 655.0 1359.8 659.8C1363.1 665.9 1366.4 671.5 1369.8 675.8C1373.1 680.0 1376.4 683.3 1379.7 685.4C1380.2 685.7 1380.7 685.9 1381.2 686.2C1381.6 686.4 1382.1 686.7 1382.6 686.9C1383.1 687.2 1383.5 687.4 1384.0 687.7C1384.5 688.0 1385.0 688.3 1385.4 688.6C1385.9 688.9 1386.4 689.1 1386.9 689.4C1387.3 689.6 1387.8 689.7 1388.3 690.0C1388.8 690.2 1389.2 690.5 1389.7 690.8C1390.2 691.0 1390.7 691.4 1391.1 691.6C1391.6 691.8 1392.1 691.8 1392.6 692.0C1393.0 692.2 1393.5 692.3 1394.0 692.6C1394.5 692.8 1394.9 693.2 1395.4 693.5C1395.9 693.7 1396.4 693.8 1396.8 693.9C1397.3 694.1 1397.8 694.0 1398.3 694.1C1398.8 694.2 1399.2 694.5 1399.7 694.7C1400.2 695.0 1400.7 695.3 1401.1 695.4C1401.6 695.5 1402.1 695.3 1402.6 695.2C1403.0 695.2 1403.5 695.2 1404.0 695.3C1404.5 695.4 1404.9 695.9 1405.4 696.0C1405.9 696.1 1406.4 696.1 1406.8 696.1C1407.3 696.0 1407.8 695.6 1408.3 695.7C1408.7 695.7 1409.2 695.9 1409.7 696.1C1410.2 696.3 1410.6 696.7 1411.1 696.7C1411.6 696.7 1412.1 696.4 1412.5 696.3C1413.0 696.2 1413.5 696.1 1414.0 696.2C1414.4 696.3 1414.9 696.8 1415.4 696.9C1415.9 697.1 1416.3 697.0 1416.8 696.9C1417.3 696.8 1417.8 696.4 1418.2 696.4C1418.7 696.3 1419.2 696.6 1419.7 696.7C1420.1 696.8 1420.6 697.1 1421.1 697.1C1421.6 697.0 1422.0 696.6 1422.5 696.4C1423.0 696.3 1423.5 696.1 1423.9 696.1C1424.4 696.1 1424.9 696.5 1425.4 696.6C1425.8 696.6 1426.3 696.5 1426.8 696.3C1427.3 696.1 1427.7 695.6 1428.2 695.5C1428.7 695.4 1429.2 695.6 1429.6 695.7C1430.1 695.8 1430.6 696.1 1431.1 696.0C1431.6 695.9 1432.1 695.4 1432.6 695.3C1433.1 695.1 1433.6 695.0 1434.1 695.1C1434.6 695.1 1435.1 695.5 1435.6 695.5C1436.1 695.5 1436.6 695.2 1437.1 695.1C1437.6 694.9 1438.1 694.5 1438.6 694.4C1439.3 694.2 1440.0 694.6 1440.6 694.7" stroke="#dcb100" stroke-width="2.25"/>
<path d="M214.3 339.9C214.9 339.9 215.4 339.9 216.0 339.9C235.4 339.9 254.9 340.4 274.3 340.7C295.7 341.1 317.2 341.6 338.6 342.0C360.0 342.4 381.5 342.9 402.9 343.3C424.3 343.7 445.8 344.1 467.2 344.2C488.1 344.2 509.1 345.0 530.0 343.7C544.3 342.9 558.6 341.2 572.9 339.7C587.2 338.1 601.4 336.1 615.7 334.3C630.0 332.5 644.3 330.8 658.6 328.9C672.9 327.1 687.2 326.0 701.5 323.2C708.6 321.7 715.8 320.3 722.9 318.2C730.0 316.2 737.2 312.9 744.3 310.7C751.5 308.6 758.6 307.7 765.8 305.4C772.9 303.0 780.1 300.0 787.2 296.8C794.3 293.6 801.5 290.2 808.6 286.1C815.8 282.0 822.9 278.2 830.1 272.1C833.4 269.3 836.7 266.0 840.0 262.7C842.9 259.9 845.7 257.0 848.6 254.1C851.4 251.3 854.3 248.3 857.1 245.6C860.4 242.5 863.6 240.1 866.8 237.0C869.6 234.3 872.5 231.1 875.4 228.2C877.9 225.7 880.4 223.6 882.9 220.7C885.4 217.9 887.9 215.0 890.4 211.1C892.5 207.7 894.7 204.4 896.8 199.3C898.6 195.1 900.4 190.0 902.2 184.3C903.6 179.7 905.0 174.2 906.4 169.3C907.7 165.0 908.9 160.0 910.2 156.4C911.1 153.9 912.0 151.1 912.9 150.0C913.6 149.1 914.3 149.5 915.0 149.5C915.6 149.4 916.1 149.0 916.6 149.5C917.5 150.2 918.4 153.2 919.3 155.4C920.4 157.9 921.4 161.3 922.5 163.9C923.6 166.6 924.7 169.3 925.7 171.4C927.2 174.3 928.6 176.2 930.0 177.9C931.4 179.6 932.9 180.8 934.3 181.6C935.7 182.4 937.2 182.9 938.6 182.7C940.0 182.5 941.5 181.6 942.9 180.5C944.3 179.5 945.7 177.7 947.2 176.3C948.6 174.8 950.0 173.1 951.5 172.0C952.9 170.8 954.3 169.9 955.7 169.5C956.8 169.2 957.9 169.2 959.0 169.5C960.4 169.9 961.8 171.4 963.2 172.5C964.7 173.6 966.1 175.3 967.5 176.3C969.0 177.2 970.4 177.7 971.8 178.1C973.2 178.4 974.7 178.7 976.1 178.4C977.5 178.1 979.0 177.2 980.4 176.3C981.8 175.3 983.2 173.4 984.7 172.7C985.9 172.1 987.2 171.7 988.4 172.0C989.7 172.2 990.9 172.9 992.2 174.1C993.6 175.5 995.0 178.1 996.5 180.0C997.6 181.6 998.8 182.8 1000.0 184.5C1000.6 185.3 1001.2 186.4 1001.8 187.2C1003.6 189.4 1005.4 190.6 1007.1 190.4C1008.6 190.2 1010.0 189.1 1011.4 187.2C1013.2 184.7 1015.0 179.1 1016.8 175.4C1018.2 172.4 1019.6 168.2 1021.1 166.8C1021.8 166.1 1022.5 165.4 1023.2 165.7C1024.1 166.1 1025.0 168.3 1025.9 170.0C1027.2 172.4 1028.4 176.7 1029.7 178.6C1030.7 180.2 1031.8 181.2 1032.9 181.3C1033.9 181.3 1035.0 179.7 1036.1 179.1C1037.0 178.7 1037.9 177.5 1038.8 178.0C1039.5 178.5 1040.2 179.0 1040.9 181.3C1041.6 183.5 1042.3 187.8 1043.0 191.4C1043.9 196.0 1044.8 201.6 1045.7 206.4C1046.8 212.3 1047.9 218.6 1048.9 223.6C1050.4 230.2 1051.8 230.0 1053.2 239.7C1053.6 242.1 1053.9 245.4 1054.3 247.7C1055.7 256.9 1057.2 253.8 1058.6 256.3C1060.4 259.4 1062.2 260.9 1063.9 263.8C1065.4 266.1 1066.8 268.3 1068.2 271.3C1069.7 274.3 1071.1 278.4 1072.5 282.0C1073.9 285.6 1075.4 289.3 1076.8 292.7C1078.2 296.1 1079.7 299.5 1081.1 302.4C1082.5 305.2 1083.9 307.7 1085.4 309.9C1087.2 312.6 1089.0 316.1 1090.7 316.3C1091.8 316.5 1092.9 315.1 1094.0 314.7C1094.7 314.4 1095.4 313.5 1096.1 314.2C1096.8 314.8 1097.5 316.8 1098.2 318.4C1099.3 320.9 1100.4 324.2 1101.5 327.0C1102.5 329.9 1103.6 332.7 1104.7 335.6C1105.8 338.6 1106.9 342.2 1108.0 345.0C1109.6 349.2 1111.3 355.6 1112.9 355.7C1114.0 355.8 1115.0 353.9 1116.1 351.4C1117.0 349.3 1117.9 345.3 1118.8 342.9C1119.7 340.6 1120.5 338.3 1121.4 337.0C1122.3 335.6 1123.2 334.9 1124.1 334.8C1125.0 334.7 1125.9 334.7 1126.8 336.4C1127.5 337.8 1128.3 340.3 1129.0 342.9C1129.7 345.4 1130.4 348.6 1131.1 351.4C1131.8 354.3 1132.5 357.9 1133.2 360.0C1134.1 362.7 1135.0 363.8 1135.9 364.3C1136.8 364.8 1137.7 364.6 1138.6 363.2C1139.3 362.1 1140.0 359.7 1140.7 357.9C1141.5 355.9 1142.2 352.7 1143.0 352.0C1144.0 351.1 1145.0 353.7 1146.0 356.0C1147.0 358.3 1148.0 362.7 1149.0 366.0C1150.0 369.3 1151.0 373.3 1152.0 376.0C1153.0 378.7 1154.0 381.3 1155.0 382.0C1156.0 382.7 1157.0 381.0 1158.0 380.0C1159.0 379.0 1160.0 376.0 1161.0 376.0C1162.0 376.0 1163.0 377.7 1164.0 380.0C1165.0 382.3 1166.0 387.0 1167.0 390.0C1168.0 393.0 1169.0 396.3 1170.0 398.0C1171.3 400.3 1172.7 399.3 1174.0 400.0C1175.3 400.7 1176.7 400.3 1178.0 402.0C1179.3 403.7 1180.7 407.0 1182.0 410.0C1183.3 413.0 1184.7 417.0 1186.0 420.0C1187.3 423.0 1188.7 426.0 1190.0 428.0C1191.3 430.0 1192.7 430.0 1194.0 432.0C1195.3 434.0 1196.7 436.7 1198.0 440.0C1199.3 443.3 1200.7 447.7 1202.0 452.0C1203.0 455.2 1204.0 459.7 1205.0 462.0C1206.0 464.3 1207.0 466.3 1208.0 466.0C1209.0 465.7 1210.0 462.7 1211.0 460.0C1212.0 457.3 1213.0 452.7 1214.0 450.0C1215.0 447.3 1216.0 443.8 1217.0 443.8C1218.0 443.8 1219.0 447.6 1220.0 450.0C1221.0 452.4 1222.0 456.0 1223.0 458.0C1224.0 460.0 1225.0 462.0 1226.0 462.0C1227.0 462.0 1228.0 458.0 1229.0 458.0C1230.0 458.0 1231.0 460.4 1232.0 462.0C1233.3 464.2 1234.7 466.8 1236.0 470.0C1237.0 472.4 1238.0 476.0 1239.0 478.0C1240.1 480.1 1241.1 484.2 1242.2 482.0C1242.9 480.6 1243.6 475.9 1244.3 473.2C1245.0 470.4 1245.8 467.0 1246.5 465.7C1247.0 464.7 1247.6 463.8 1248.1 464.7C1248.6 465.6 1249.2 468.4 1249.7 471.1C1250.2 473.8 1250.8 478.2 1251.3 480.8C1252.2 485.2 1253.1 486.8 1254.0 489.0C1255.3 492.2 1256.7 493.8 1258.0 495.0C1259.3 496.2 1260.7 495.3 1262.0 496.0C1263.3 496.7 1264.7 497.8 1266.0 499.0C1267.3 500.2 1268.7 501.9 1270.0 503.0C1271.7 504.4 1273.3 504.2 1275.0 506.0C1276.3 507.5 1277.7 508.9 1279.0 512.0C1280.0 514.4 1281.0 518.9 1282.0 521.0C1283.3 523.9 1284.7 523.4 1286.0 525.0C1287.0 526.2 1288.0 527.5 1289.0 529.0C1290.7 531.5 1292.3 535.3 1294.0 538.0C1295.7 540.7 1297.3 542.7 1299.0 545.0C1300.7 547.3 1302.3 549.7 1304.0 552.0C1305.7 554.3 1307.3 556.6 1309.0 559.0C1310.3 560.9 1311.7 562.8 1313.0 565.0C1314.0 566.6 1314.9 568.4 1315.9 570.0C1319.2 575.6 1322.5 580.7 1325.8 586.0C1329.2 591.3 1332.5 596.6 1335.8 601.9C1339.2 607.3 1342.5 612.9 1345.8 617.9C1349.1 622.9 1352.5 627.6 1355.8 631.9C1359.1 636.2 1362.4 640.2 1365.8 643.9C1369.1 647.5 1372.4 650.5 1375.7 653.8C1379.1 657.2 1382.4 660.8 1385.7 663.8C1389.1 666.8 1392.4 669.5 1395.7 671.8C1399.0 674.1 1402.4 676.0 1405.7 677.8C1409.0 679.6 1412.3 681.5 1415.7 682.8C1419.0 684.0 1422.3 684.9 1425.6 685.4C1430.0 686.0 1434.3 685.7 1438.6 685.4C1439.3 685.3 1440.0 685.2 1440.6 685.2" stroke="#f0a005" stroke-width="2.25"/>
<path d="M214.3 334.9C214.9 334.9 215.4 334.9 216.0 334.9C235.4 335.0 254.9 337.1 274.3 338.2C295.7 339.3 317.2 340.6 338.6 341.8C360.0 343.0 381.5 344.3 402.9 345.4C424.3 346.5 445.8 347.7 467.2 348.4C477.9 348.8 488.6 349.2 499.4 349.3C509.6 349.4 519.8 349.4 530.0 348.9C544.3 348.1 558.6 345.8 572.9 343.9C587.2 342.1 601.4 339.4 615.7 337.5C626.5 336.1 637.2 334.3 647.9 333.7C658.6 333.0 669.3 334.1 680.0 333.7C690.8 333.2 701.5 333.4 712.2 331.1C719.3 329.6 726.5 327.2 733.6 324.7C740.8 322.2 747.9 319.3 755.1 316.1C762.2 312.9 769.3 308.4 776.5 305.4C783.6 302.3 790.8 299.5 797.9 297.9C803.6 296.6 809.3 297.1 815.1 295.7C820.1 294.5 825.1 293.9 830.1 290.4C833.4 288.0 836.7 284.9 840.0 280.9C842.1 278.4 844.3 275.6 846.4 272.4C848.6 269.2 850.7 265.2 852.9 261.6C855.0 258.1 857.1 253.6 859.3 250.9C861.1 248.7 862.9 247.2 864.6 246.1C866.4 245.0 868.2 244.6 870.0 244.3C871.8 244.0 873.6 244.2 875.4 244.3C877.2 244.4 878.9 244.7 880.7 244.7C882.5 244.8 884.3 244.9 886.1 244.5C887.9 244.1 889.7 243.4 891.4 242.4C892.9 241.5 894.3 240.3 895.7 239.1C896.6 238.4 897.5 238.3 898.4 237.0C899.3 235.7 900.2 233.3 901.1 231.5C902.9 227.8 904.7 224.8 906.4 220.7C907.9 217.5 909.3 213.6 910.7 210.0C912.2 206.4 913.6 203.2 915.0 199.3C916.4 195.4 917.9 189.4 919.3 186.4C920.4 184.2 921.4 182.2 922.5 182.2C923.6 182.2 924.7 184.9 925.7 186.4C927.2 188.5 928.6 191.5 930.0 193.4C931.4 195.3 932.9 196.7 934.3 197.7C935.7 198.7 937.2 199.4 938.6 199.3C940.0 199.2 941.5 198.4 942.9 197.2C944.3 195.9 945.7 193.6 947.2 191.8C948.6 190.0 950.0 187.9 951.5 186.4C952.9 185.0 954.3 183.7 955.7 183.2C956.5 183.0 957.2 182.8 957.9 182.9C959.3 183.1 960.7 184.8 962.2 185.9C963.6 187.0 965.0 188.8 966.5 189.7C967.5 190.3 968.6 190.8 969.7 190.7C971.1 190.7 972.5 190.4 974.0 188.6C975.4 186.8 976.8 184.5 978.2 180.0C979.3 176.6 980.4 171.1 981.5 167.2C982.5 163.2 983.6 158.7 984.7 156.4C985.4 154.9 986.1 154.0 986.8 153.8C987.5 153.5 988.2 153.7 989.0 154.8C990.0 156.5 991.1 161.2 992.2 165.0C993.2 168.8 994.3 173.1 995.4 177.9C996.5 182.6 997.5 189.8 998.6 193.6C1000.0 198.6 1001.4 199.3 1002.9 200.5C1003.8 201.3 1004.6 201.7 1005.5 201.6C1006.8 201.5 1008.0 200.2 1009.3 198.4C1010.7 196.3 1012.1 192.6 1013.6 189.3C1015.0 186.0 1016.4 181.1 1017.9 178.6C1018.9 176.7 1020.0 175.5 1021.1 174.8C1021.8 174.4 1022.5 174.1 1023.2 174.3C1024.3 174.6 1025.4 176.2 1026.4 177.5C1027.9 179.2 1029.3 182.2 1030.7 183.9C1032.2 185.6 1033.6 186.5 1035.0 187.7C1036.1 188.6 1037.2 189.2 1038.2 190.4C1039.3 191.5 1040.4 192.2 1041.4 194.7C1042.5 197.2 1043.6 201.1 1044.7 205.4C1045.7 209.7 1046.8 215.6 1047.9 220.4C1048.9 225.2 1050.0 231.6 1051.1 234.3C1051.8 236.1 1052.5 235.6 1053.2 237.0C1054.3 239.1 1055.4 243.9 1056.4 246.6C1057.9 250.3 1059.3 252.6 1060.7 255.2C1062.5 258.5 1064.3 260.5 1066.1 263.8C1067.5 266.4 1068.9 269.2 1070.4 272.4C1071.8 275.6 1073.2 279.3 1074.7 283.1C1076.1 286.8 1077.5 291.3 1078.9 294.9C1080.4 298.4 1081.8 301.7 1083.2 304.5C1084.7 307.4 1086.1 309.7 1087.5 312.0C1089.0 314.3 1090.4 316.8 1091.8 318.4C1093.2 320.1 1094.7 322.0 1096.1 321.7C1097.2 321.4 1098.2 319.5 1099.3 318.4C1100.0 317.7 1100.7 316.3 1101.5 316.3C1102.2 316.3 1102.9 317.2 1103.6 318.4C1104.7 320.4 1105.7 324.6 1106.8 328.1C1107.5 330.4 1108.2 332.9 1109.0 335.6C1109.6 338.2 1110.3 341.6 1111.0 344.0C1112.0 347.5 1113.0 351.3 1114.0 352.0C1115.0 352.7 1116.0 350.1 1117.0 348.0C1117.8 346.2 1118.7 342.7 1119.5 341.0C1120.3 339.3 1121.2 338.7 1122.0 338.0C1123.0 337.2 1124.0 336.3 1125.0 337.0C1126.0 337.7 1127.0 339.5 1128.0 342.0C1128.8 344.1 1129.7 347.5 1130.5 350.0C1131.3 352.5 1132.2 355.2 1133.0 357.0C1134.0 359.1 1135.0 360.5 1136.0 361.0C1137.0 361.5 1138.0 361.2 1139.0 360.0C1140.0 358.8 1141.0 355.3 1142.0 354.0C1143.0 352.7 1144.0 351.0 1145.0 352.0C1146.0 353.0 1147.0 357.0 1148.0 360.0C1149.0 363.0 1150.0 367.0 1151.0 370.0C1152.0 373.0 1153.0 376.2 1154.0 378.0C1155.0 379.8 1156.0 381.0 1157.0 381.0C1158.0 381.0 1159.0 378.5 1160.0 378.0C1161.0 377.5 1162.0 376.7 1163.0 378.0C1164.0 379.3 1165.0 383.3 1166.0 386.0C1167.0 388.7 1168.0 392.2 1169.0 394.0C1170.3 396.5 1171.7 396.2 1173.0 397.0C1174.3 397.8 1175.7 397.5 1177.0 399.0C1178.3 400.5 1179.7 403.2 1181.0 406.0C1182.3 408.8 1183.7 413.0 1185.0 416.0C1186.3 419.0 1187.7 421.7 1189.0 424.0C1190.3 426.3 1191.7 427.8 1193.0 430.0C1194.3 432.2 1195.7 434.0 1197.0 437.0C1198.3 440.0 1199.7 443.9 1201.0 448.0C1202.0 451.1 1203.0 455.3 1204.0 458.0C1205.3 461.6 1206.6 465.4 1207.9 465.7C1208.9 465.9 1210.0 464.4 1211.0 462.0C1212.0 459.7 1213.0 454.9 1214.0 452.0C1215.0 449.1 1216.0 444.7 1217.0 444.5C1217.8 444.4 1218.7 446.8 1219.5 449.0C1220.3 451.2 1221.2 455.9 1222.0 458.0C1223.0 460.6 1224.0 462.4 1225.0 462.0C1226.1 461.5 1227.1 455.0 1228.2 454.5C1229.1 454.1 1230.1 456.5 1231.0 458.0C1232.0 459.6 1233.0 462.8 1234.0 464.0C1235.3 465.6 1236.6 464.6 1237.9 464.7C1239.3 464.8 1240.8 465.5 1242.2 464.7C1243.3 464.1 1244.3 462.1 1245.4 461.4C1246.1 461.0 1246.8 460.1 1247.5 460.6C1248.2 461.1 1249.0 462.5 1249.7 464.7C1250.4 466.8 1251.1 470.6 1251.8 473.2C1252.5 476.0 1253.3 477.8 1254.0 480.8C1254.5 482.7 1254.9 485.3 1255.4 487.1C1257.1 493.6 1258.8 493.4 1260.5 493.8C1261.6 494.0 1262.7 491.7 1263.8 492.2C1264.9 492.7 1266.1 496.1 1267.2 497.2C1268.9 498.8 1270.5 498.1 1272.2 498.0C1273.3 497.9 1274.5 495.7 1275.6 497.2C1276.7 498.7 1277.9 503.6 1279.0 507.3C1280.1 510.9 1281.2 516.9 1282.3 519.0C1283.4 521.2 1284.6 519.0 1285.7 519.9C1286.8 520.8 1287.9 522.4 1289.0 524.1C1290.7 526.7 1292.4 531.7 1294.1 534.2C1295.8 536.7 1297.4 537.3 1299.1 539.2C1300.8 541.2 1302.5 543.9 1304.2 545.9C1305.9 547.8 1307.5 549.6 1309.2 551.0C1310.9 552.4 1312.5 552.6 1314.2 554.3C1315.9 556.0 1317.6 558.8 1319.3 561.1C1320.7 563.0 1322.1 560.2 1323.5 567.0C1323.6 567.6 1323.7 568.2 1323.9 568.8C1327.8 588.8 1331.8 576.8 1335.8 580.8C1339.8 584.8 1343.8 589.1 1347.8 592.8C1351.8 596.4 1355.8 599.6 1359.8 602.7C1363.8 605.9 1367.8 609.1 1371.8 611.7C1375.7 614.4 1379.7 616.6 1383.7 618.7C1387.7 620.8 1391.7 622.7 1395.7 624.3C1399.7 625.9 1403.7 627.3 1407.7 628.3C1411.0 629.1 1414.3 629.8 1417.7 630.1C1421.0 630.3 1424.3 630.0 1427.6 629.7C1431.3 629.3 1435.0 628.4 1438.6 627.7C1439.3 627.6 1440.0 627.4 1440.6 627.3" stroke="#fa8c05" stroke-width="2.25"/>
<path d="M214.3 385.1C214.9 385.1 215.4 385.1 216.0 385.1C235.4 385.1 254.9 386.5 274.3 387.2C295.7 388.1 317.2 388.9 338.6 390.0C360.0 391.1 381.5 392.7 402.9 393.7C424.3 394.6 445.8 395.5 467.2 395.8C488.1 396.2 509.1 396.9 530.0 395.8C544.3 395.1 558.6 394.0 572.9 392.2C587.2 390.3 601.4 387.2 615.7 384.7C630.0 382.2 644.3 379.1 658.6 377.2C672.9 375.2 687.2 375.1 701.5 372.9C712.2 371.2 722.9 370.0 733.6 366.5C744.3 362.9 755.1 357.6 765.8 351.4C772.9 347.3 780.1 341.3 787.2 337.5C794.3 333.8 801.5 332.2 808.6 328.9C815.8 325.7 822.9 322.9 830.1 318.2C833.4 316.0 836.7 315.2 840.0 310.9C841.8 308.6 843.6 305.4 845.4 302.4C847.1 299.3 848.9 295.9 850.7 292.7C852.5 289.5 854.3 285.9 856.1 283.1C857.9 280.2 859.6 277.6 861.4 275.6C862.9 274.0 864.3 272.5 865.7 271.8C867.0 271.3 868.2 271.2 869.5 271.5C870.7 271.8 872.0 272.6 873.2 273.4C875.0 274.6 876.8 276.3 878.6 277.7C880.4 279.2 882.2 280.8 883.9 282.0C885.7 283.2 887.5 284.1 889.3 284.7C891.1 285.3 892.9 285.5 894.7 285.4C896.4 285.4 898.2 285.1 900.0 284.2C901.8 283.2 903.6 281.5 905.4 279.9C907.2 278.3 908.9 276.3 910.7 274.5C912.9 272.4 915.0 270.2 917.2 268.1C919.3 265.9 921.4 263.8 923.6 261.6C925.7 259.5 927.9 257.4 930.0 255.2C932.2 253.1 934.3 250.7 936.5 248.8C938.2 247.2 940.0 245.7 941.8 244.5C943.6 243.3 945.4 242.4 947.2 241.8C949.0 241.3 950.7 241.3 952.5 241.3C954.3 241.2 956.1 241.6 957.9 241.5C959.7 241.4 961.5 241.3 963.2 240.8C965.0 240.2 966.8 239.2 968.6 238.1C969.1 237.7 969.7 237.7 970.2 237.0C970.7 236.3 971.3 234.7 971.8 233.6C973.6 229.9 975.4 228.6 977.2 223.9C978.6 220.2 980.0 215.2 981.5 210.0C982.9 204.8 984.3 197.5 985.7 192.9C986.8 189.4 987.9 186.2 989.0 184.3C989.5 183.3 990.0 182.2 990.6 182.2C991.1 182.1 991.6 182.9 992.2 183.8C992.9 184.9 993.6 186.9 994.3 188.6C996.5 193.5 998.6 199.6 1000.7 204.3C1002.5 208.2 1004.3 212.2 1006.1 215.0C1007.9 217.9 1009.6 219.7 1011.4 221.4C1013.2 223.2 1015.0 224.5 1016.8 225.7C1018.6 227.0 1020.4 227.5 1022.2 228.9C1023.6 230.1 1025.0 231.6 1026.4 233.2C1027.9 234.8 1029.3 236.0 1030.7 238.6C1032.2 241.2 1033.6 245.7 1035.0 248.8C1036.4 251.9 1037.9 254.7 1039.3 257.4C1040.7 260.0 1042.2 262.9 1043.6 264.9C1045.7 267.8 1047.9 268.7 1050.0 270.2C1051.4 271.2 1052.9 272.5 1054.3 272.9C1055.7 273.3 1057.2 272.1 1058.6 272.9C1060.0 273.7 1061.4 276.2 1062.9 277.7C1064.3 279.2 1065.7 279.9 1067.2 282.0C1068.6 284.2 1070.0 283.4 1071.4 290.6C1072.4 295.4 1073.3 306.5 1074.3 310.7C1075.0 313.9 1075.7 314.4 1076.4 316.1C1078.6 321.0 1080.7 323.6 1082.9 326.8C1085.0 330.0 1087.1 332.7 1089.3 335.4C1091.4 338.0 1093.6 340.4 1095.7 342.9C1097.9 345.4 1100.0 347.9 1102.2 350.4C1104.3 352.9 1106.4 355.5 1108.6 357.9C1110.7 360.2 1112.9 361.7 1115.0 364.3C1116.8 366.5 1118.6 369.7 1120.4 371.8C1121.8 373.5 1123.2 375.0 1124.7 376.1C1126.1 377.2 1127.5 378.2 1128.9 378.2C1130.4 378.2 1131.8 378.3 1133.2 376.1C1134.3 374.4 1135.4 371.6 1136.4 368.6C1137.5 365.6 1138.6 361.0 1139.7 357.9C1140.2 356.3 1140.7 354.6 1141.3 353.6C1142.2 351.8 1143.1 350.7 1143.9 351.4C1145.0 352.3 1146.1 357.0 1147.2 360.0C1148.2 363.0 1149.3 366.6 1150.4 369.7C1151.4 372.7 1152.5 376.1 1153.6 378.2C1154.7 380.4 1155.7 380.9 1156.8 382.5C1157.9 384.1 1158.9 386.1 1160.0 387.9C1161.1 389.7 1162.2 391.4 1163.2 393.2C1164.3 395.0 1165.4 396.6 1166.5 398.6C1167.6 400.8 1168.8 404.1 1170.0 406.0C1171.3 408.1 1172.7 409.3 1174.0 410.0C1175.3 410.7 1176.7 409.3 1178.0 410.0C1179.3 410.7 1180.7 411.7 1182.0 414.0C1183.3 416.3 1184.7 421.0 1186.0 424.0C1187.3 427.0 1188.7 429.7 1190.0 432.0C1191.3 434.3 1192.7 435.7 1194.0 438.0C1195.3 440.3 1196.7 442.7 1198.0 446.0C1199.3 449.3 1200.7 453.7 1202.0 458.0C1203.0 461.2 1204.0 466.0 1205.0 468.0C1206.0 470.0 1207.0 470.7 1208.0 470.0C1209.0 469.3 1210.0 466.3 1211.0 464.0C1212.0 461.7 1213.0 458.0 1214.0 456.0C1215.0 454.0 1216.0 452.0 1217.0 452.0C1218.0 452.0 1219.0 454.3 1220.0 456.0C1221.0 457.7 1222.0 461.7 1223.0 462.0C1224.0 462.3 1225.0 459.6 1226.0 458.0C1226.7 456.8 1227.5 454.3 1228.2 454.0C1229.1 453.6 1230.1 456.1 1231.0 458.0C1232.0 460.0 1233.0 463.8 1234.0 466.0C1235.3 468.9 1236.7 470.3 1238.0 472.0C1239.3 473.7 1240.7 474.7 1242.0 476.0C1243.3 477.3 1244.7 478.0 1246.0 480.0C1247.3 482.0 1248.7 485.7 1250.0 488.0C1251.3 490.3 1252.7 492.5 1254.0 494.0C1255.3 495.5 1256.7 496.2 1258.0 497.0C1259.3 497.8 1260.7 498.0 1262.0 499.0C1263.3 500.0 1264.7 501.5 1266.0 503.0C1267.3 504.5 1268.7 506.6 1270.0 508.0C1271.7 509.8 1273.3 510.2 1275.0 512.0C1276.3 513.4 1277.7 514.8 1279.0 517.0C1280.3 519.2 1281.7 522.8 1283.0 525.0C1284.3 527.2 1285.7 528.2 1287.0 530.0C1288.3 531.8 1289.7 533.9 1291.0 536.0C1292.7 538.6 1294.3 541.5 1296.0 544.0C1297.7 546.5 1299.3 548.7 1301.0 551.0C1302.7 553.3 1304.3 555.8 1306.0 558.0C1307.7 560.2 1309.3 562.2 1311.0 564.0C1313.3 566.4 1315.6 567.7 1317.9 570.0C1321.9 573.9 1325.9 579.0 1329.8 584.0C1333.8 589.0 1337.8 595.0 1341.8 599.9C1345.8 604.9 1349.8 609.6 1353.8 613.9C1357.8 618.2 1361.8 622.2 1365.8 625.9C1369.8 629.5 1373.8 632.9 1377.7 635.9C1381.7 638.9 1385.7 641.7 1389.7 643.9C1393.7 646.0 1397.7 647.4 1401.7 648.8C1405.7 650.2 1409.7 651.5 1413.7 652.2C1417.7 653.0 1421.7 653.5 1425.6 653.4C1430.0 653.4 1434.3 652.7 1438.6 651.8C1439.3 651.7 1440.0 651.6 1440.6 651.4" stroke="#fa7864" stroke-width="2.25"/>
<path d="M214.3 355.5C214.9 355.5 215.4 355.5 216.0 355.5C242.6 355.5 269.2 356.0 295.7 356.2C324.3 356.3 352.9 356.6 381.5 356.6C410.0 356.6 438.6 356.6 467.2 356.2C488.1 355.8 509.1 355.8 530.0 354.7C544.3 353.9 558.6 352.3 572.9 351.4C587.2 350.6 601.4 350.2 615.7 349.7C630.0 349.3 644.3 349.4 658.6 348.9C669.3 348.5 680.0 348.3 690.8 347.2C701.5 346.0 712.2 343.9 722.9 341.8C733.6 339.7 744.3 336.3 755.1 334.3C762.2 333.0 769.3 332.3 776.5 331.1C783.6 329.8 790.8 328.8 797.9 326.8C805.1 324.8 812.2 322.6 819.4 319.3C826.2 316.2 833.1 314.0 840.0 307.7C841.8 306.1 843.6 304.2 845.4 302.4C847.1 300.6 848.9 298.5 850.7 297.0C852.5 295.5 854.3 294.2 856.1 293.3C857.9 292.3 859.6 291.9 861.4 291.4C863.6 290.8 865.7 290.5 867.9 290.0C870.0 289.5 872.2 289.1 874.3 288.4C876.4 287.8 878.6 287.3 880.7 286.3C882.9 285.3 885.0 284.2 887.2 282.5C889.3 280.9 891.4 278.8 893.6 276.7C895.7 274.5 897.9 271.7 900.0 269.7C902.2 267.6 904.3 265.8 906.4 264.3C908.6 262.9 910.7 261.9 912.9 261.1C915.0 260.3 917.2 260.2 919.3 259.7C921.4 259.3 923.6 259.3 925.7 258.4C927.5 257.7 929.3 256.6 931.1 255.2C932.9 253.8 934.7 251.8 936.5 249.9C938.2 247.9 940.0 245.9 941.8 243.4C943.2 241.5 944.7 241.0 946.1 237.0C947.2 234.0 948.2 228.2 949.3 225.0C950.7 220.8 952.2 218.2 953.6 216.4C954.7 215.1 955.7 214.4 956.8 214.3C958.2 214.2 959.7 216.1 961.1 217.5C962.5 218.9 964.0 221.5 965.4 222.9C966.8 224.2 968.2 225.2 969.7 225.6C971.1 225.9 972.5 226.1 974.0 225.0C975.7 223.6 977.5 219.5 979.3 216.4C981.1 213.4 982.9 208.7 984.7 206.8C985.9 205.5 987.2 204.5 988.4 204.7C989.7 204.8 990.9 206.4 992.2 207.9C993.6 209.5 995.0 212.4 996.5 214.3C997.5 215.7 998.6 217.3 999.6 218.2C1001.8 220.1 1003.9 219.1 1006.1 219.3C1008.9 219.6 1011.8 215.8 1014.6 219.3C1015.7 220.6 1016.8 222.7 1017.9 224.7C1018.9 226.6 1020.0 229.3 1021.1 231.1C1022.5 233.5 1023.9 235.0 1025.4 236.5C1027.2 238.2 1028.9 239.5 1030.7 240.2C1032.5 240.9 1034.3 240.5 1036.1 240.7C1037.5 240.9 1038.9 236.0 1040.4 241.3C1041.1 243.9 1041.8 249.9 1042.5 253.1C1043.9 259.5 1045.4 260.8 1046.8 263.8C1048.2 266.8 1049.7 269.3 1051.1 271.3C1052.5 273.3 1053.9 274.4 1055.4 275.6C1056.8 276.7 1058.2 277.6 1059.7 278.3C1061.1 278.9 1062.5 278.5 1063.9 279.3C1065.0 280.0 1066.1 280.9 1067.2 282.0C1068.6 283.5 1070.0 284.9 1071.4 287.4C1072.9 289.9 1074.3 294.3 1075.7 297.0C1077.2 299.7 1078.6 301.5 1080.0 303.4C1081.4 305.4 1082.9 307.3 1084.3 308.8C1086.1 310.7 1087.9 311.5 1089.7 313.1C1091.1 314.4 1092.5 315.6 1094.0 317.4C1095.4 319.2 1096.8 321.5 1098.2 323.8C1099.7 326.1 1101.1 328.9 1102.5 331.3C1104.9 335.3 1107.3 339.6 1109.7 342.9C1111.4 345.3 1113.2 347.3 1115.0 349.3C1116.8 351.3 1118.6 353.4 1120.4 354.7C1122.2 355.9 1123.9 356.5 1125.7 356.8C1127.2 357.1 1128.6 357.2 1130.0 356.8C1131.4 356.4 1132.9 355.2 1134.3 354.7C1135.7 354.1 1137.2 353.9 1138.6 353.6C1141.4 353.0 1144.3 352.3 1147.2 352.5C1148.2 352.6 1149.3 353.1 1150.4 353.0C1151.3 353.0 1152.2 352.2 1153.1 352.5C1153.9 352.8 1154.8 353.6 1155.7 354.7C1156.8 355.9 1157.9 358.0 1158.9 360.0C1160.0 362.0 1161.1 364.3 1162.2 366.4C1163.2 368.6 1164.3 371.1 1165.4 372.9C1166.5 374.7 1167.5 375.9 1168.6 377.2C1170.0 378.9 1171.5 380.0 1172.9 381.4C1174.3 382.9 1175.7 384.3 1177.2 385.7C1178.6 387.2 1180.0 389.0 1181.5 390.0C1182.5 390.8 1183.6 391.5 1184.7 391.6C1185.7 391.8 1186.8 391.1 1187.9 390.9C1189.0 390.7 1190.0 390.2 1191.1 390.6C1192.2 390.9 1193.2 391.9 1194.3 393.2C1195.4 394.6 1196.5 396.1 1197.5 398.6C1198.4 400.5 1199.2 403.8 1200.0 405.7C1202.9 412.5 1205.7 410.0 1208.6 412.2C1211.5 414.3 1214.3 417.4 1217.2 418.6C1219.3 419.5 1221.5 418.4 1223.6 419.7C1225.8 420.9 1227.9 424.4 1230.0 426.1C1232.9 428.3 1235.8 427.9 1238.6 430.4C1240.8 432.3 1242.9 436.6 1245.0 437.9C1247.2 439.1 1249.3 436.5 1251.5 437.9C1253.6 439.3 1255.8 444.9 1257.9 446.5C1260.0 448.1 1262.2 446.5 1264.3 447.5C1267.2 448.9 1270.0 452.9 1272.9 455.0C1275.8 457.2 1278.6 458.6 1281.5 460.4C1284.3 462.2 1287.2 464.7 1290.1 465.8C1290.5 465.9 1291.0 466.1 1291.5 466.2C1292.0 466.4 1292.4 466.6 1292.9 466.7C1293.4 466.9 1293.9 467.0 1294.3 467.2C1294.8 467.4 1295.3 467.6 1295.8 467.8C1296.3 468.0 1296.7 468.3 1297.2 468.6C1297.7 468.8 1298.2 469.1 1298.7 469.3C1299.2 469.5 1299.7 469.7 1300.2 470.0C1300.7 470.2 1301.2 470.6 1301.6 470.9C1302.1 471.3 1302.6 471.8 1303.1 472.1C1303.6 472.4 1304.1 472.7 1304.6 472.9C1305.1 473.2 1305.6 473.2 1306.1 473.5C1306.5 473.7 1307.0 474.0 1307.5 474.4C1308.0 474.7 1308.5 475.3 1309.0 475.6C1309.5 475.9 1310.0 476.1 1310.5 476.3C1311.0 476.5 1311.5 476.4 1312.0 476.5C1312.5 476.7 1313.0 477.0 1313.5 477.4C1314.0 477.8 1314.5 478.4 1315.0 478.8C1315.5 479.1 1316.0 479.3 1316.5 479.4C1317.0 479.5 1317.5 479.3 1318.0 479.4C1318.5 479.5 1319.0 479.8 1319.5 480.2C1320.0 480.6 1320.5 481.4 1321.0 481.7C1321.5 482.1 1322.0 482.2 1322.5 482.3C1323.0 482.3 1323.5 482.0 1324.0 482.1C1324.5 482.2 1325.0 482.5 1325.4 482.9C1325.9 483.3 1326.4 484.1 1326.9 484.4C1327.4 484.7 1327.9 484.9 1328.4 484.9C1328.9 485.0 1329.4 484.6 1329.9 484.7C1330.4 484.8 1330.9 485.1 1331.4 485.5C1331.9 485.8 1332.4 486.6 1332.9 486.9C1333.4 487.3 1333.9 487.4 1334.4 487.5C1334.9 487.6 1335.4 487.2 1335.9 487.3C1336.4 487.4 1336.9 487.7 1337.4 488.1C1337.9 488.5 1338.4 489.3 1338.9 489.6C1339.4 490.0 1339.9 490.1 1340.4 490.2C1340.9 490.3 1341.4 490.0 1341.9 490.1C1342.4 490.1 1342.9 490.4 1343.4 490.8C1343.9 491.1 1344.4 491.9 1344.9 492.3C1345.4 492.6 1345.9 492.8 1346.4 492.8C1346.9 492.9 1347.4 492.5 1347.8 492.6C1348.3 492.6 1348.8 492.8 1349.3 493.1C1349.8 493.5 1350.3 494.2 1350.8 494.5C1351.3 494.8 1351.8 495.0 1352.3 495.0C1352.8 495.0 1353.3 494.6 1353.8 494.6C1354.3 494.6 1354.8 494.8 1355.3 495.1C1355.8 495.4 1356.3 496.1 1356.8 496.4C1357.3 496.6 1357.8 496.8 1358.3 496.8C1358.8 496.8 1359.3 496.4 1359.8 496.4C1360.3 496.4 1360.8 496.5 1361.3 496.8C1361.8 497.1 1362.3 497.8 1362.8 498.0C1363.3 498.3 1363.8 498.5 1364.3 498.5C1364.8 498.5 1365.3 498.0 1365.8 498.0C1366.3 498.0 1366.8 498.1 1367.3 498.4C1367.8 498.6 1368.3 499.3 1368.8 499.6C1369.3 499.8 1369.8 500.0 1370.3 500.0C1370.7 500.0 1371.2 499.5 1371.7 499.5C1372.2 499.5 1372.7 499.5 1373.2 499.8C1373.7 500.0 1374.2 500.7 1374.7 501.0C1375.2 501.2 1375.7 501.4 1376.2 501.3C1376.7 501.3 1377.2 500.9 1377.7 500.8C1378.2 500.8 1378.7 500.8 1379.2 501.0C1379.7 501.3 1380.2 501.9 1380.7 502.2C1381.2 502.4 1381.7 502.6 1382.2 502.6C1382.7 502.5 1383.2 502.1 1383.7 502.0C1384.2 501.9 1384.7 501.9 1385.2 502.1C1385.7 502.4 1386.2 503.0 1386.7 503.2C1387.2 503.5 1387.7 503.6 1388.2 503.6C1388.7 503.5 1389.2 503.0 1389.7 502.9C1390.2 502.8 1390.7 502.8 1391.2 503.0C1391.7 503.2 1392.2 503.8 1392.7 504.0C1393.2 504.2 1393.6 504.4 1394.1 504.3C1394.6 504.2 1395.1 503.7 1395.6 503.6C1396.1 503.5 1396.6 503.4 1397.1 503.6C1397.6 503.8 1398.1 504.4 1398.6 504.6C1399.1 504.8 1399.6 504.9 1400.1 504.8C1400.6 504.8 1401.1 504.2 1401.6 504.1C1402.1 504.0 1402.5 503.9 1403.0 504.0C1403.5 504.1 1403.9 504.6 1404.4 504.8C1404.9 505.0 1405.3 505.3 1405.8 505.3C1406.3 505.2 1406.7 504.8 1407.2 504.6C1407.7 504.5 1408.1 504.2 1408.6 504.2C1409.1 504.2 1409.5 504.6 1410.0 504.7C1410.5 504.9 1411.0 505.3 1411.5 505.3C1412.0 505.3 1412.5 504.9 1413.0 504.7C1413.4 504.4 1413.9 504.0 1414.4 503.9C1414.9 503.8 1415.4 504.1 1415.9 504.2C1416.4 504.4 1416.9 504.8 1417.4 504.7C1417.9 504.7 1418.3 504.4 1418.8 504.1C1419.3 503.8 1419.8 503.3 1420.3 503.2C1420.8 503.1 1421.3 503.3 1421.8 503.4C1422.3 503.5 1422.7 504.0 1423.2 504.0C1423.7 504.0 1424.2 503.7 1424.7 503.5C1425.1 503.3 1425.6 502.7 1426.1 502.6C1426.6 502.4 1427.1 502.5 1427.5 502.6C1428.0 502.7 1428.5 503.2 1429.0 503.2C1429.5 503.3 1429.9 503.1 1430.4 502.9C1430.9 502.6 1431.4 502.0 1431.9 501.8C1432.3 501.6 1432.8 501.5 1433.3 501.5C1433.7 501.5 1434.2 501.9 1434.7 502.0C1435.1 502.0 1435.6 502.0 1436.1 501.8C1436.5 501.6 1437.0 501.0 1437.5 500.7C1437.9 500.4 1438.4 500.1 1438.9 500.0C1439.3 499.9 1439.8 500.2 1440.3 500.4" stroke="#dc5078" stroke-width="2.25"/>
<path d="M214.3 389.2C214.9 389.2 215.4 389.2 216.0 389.2C235.4 389.2 254.9 390.7 274.3 391.5C295.7 392.4 317.2 393.4 338.6 394.3C360.0 395.2 381.5 396.1 402.9 396.9C424.3 397.7 445.8 398.6 467.2 399.0C488.1 399.5 509.1 400.5 530.0 399.7C544.3 399.1 558.6 398.0 572.9 396.5C587.2 394.9 601.4 392.5 615.7 390.5C630.0 388.4 644.3 386.1 658.6 384.2C672.9 382.4 687.2 381.4 701.5 379.3C712.2 377.8 722.9 377.0 733.6 374.0C744.3 370.9 755.1 365.7 765.8 361.1C776.5 356.4 787.2 351.9 797.9 346.1C805.1 342.2 812.2 338.7 819.4 333.2C826.2 328.0 833.1 324.2 840.0 314.2C841.8 311.6 843.6 307.6 845.4 305.6C847.1 303.5 848.9 302.6 850.7 301.8C852.5 301.1 854.3 301.4 856.1 301.3C857.9 301.2 859.6 301.2 861.4 301.3C863.6 301.5 865.7 302.0 867.9 302.4C870.0 302.8 872.2 303.5 874.3 303.7C876.4 303.8 878.6 303.8 880.7 303.4C882.5 303.1 884.3 302.6 886.1 301.8C887.9 301.0 889.7 300.1 891.4 298.6C893.2 297.1 895.0 295.0 896.8 292.7C898.6 290.5 900.4 287.6 902.2 285.2C903.9 282.8 905.7 280.3 907.5 278.3C909.3 276.2 911.1 274.2 912.9 272.9C914.7 271.7 916.4 271.2 918.2 270.8C920.0 270.4 921.8 270.5 923.6 270.5C925.4 270.6 927.2 271.2 928.9 271.1C930.4 271.0 931.8 271.0 933.2 270.2C934.7 269.5 936.1 268.2 937.5 266.5C939.0 264.8 940.4 263.0 941.8 260.0C942.9 257.8 944.0 255.3 945.0 252.0C945.7 249.8 946.5 247.5 947.2 244.5C947.7 242.3 948.2 240.1 948.8 237.0C949.3 233.9 949.8 229.3 950.4 226.1C951.5 219.7 952.5 215.6 953.6 212.2C954.1 210.4 954.7 208.8 955.2 207.9C956.3 206.0 957.3 205.0 958.4 207.9C959.0 209.3 959.5 212.1 960.0 214.3C961.1 218.7 962.2 223.7 963.2 228.2C964.0 231.2 964.7 234.8 965.4 237.0C966.5 240.4 967.5 240.9 968.6 242.4C969.7 243.8 970.7 244.9 971.8 245.6C972.5 246.0 973.2 246.4 974.0 246.4C974.9 246.4 975.7 245.9 976.6 245.0C977.5 244.2 978.4 242.8 979.3 241.3C980.0 240.0 980.7 239.4 981.5 237.0C982.2 234.6 982.9 230.0 983.6 227.2C984.7 222.9 985.7 219.8 986.8 217.5C987.5 216.0 988.2 214.8 989.0 214.3C989.7 213.8 990.4 213.5 991.1 214.3C992.2 215.4 993.2 219.8 994.3 222.9C995.4 225.9 996.5 229.9 997.5 232.5C998.6 235.1 999.7 237.2 1000.7 238.6C1002.1 240.5 1003.6 241.1 1005.0 240.7C1006.4 240.4 1007.9 238.7 1009.3 236.5C1010.4 234.8 1011.4 231.9 1012.5 230.0C1013.4 228.4 1014.3 225.6 1015.2 225.7C1015.9 225.8 1016.6 227.2 1017.3 228.9C1018.0 230.7 1018.8 234.0 1019.5 236.5C1020.0 238.3 1020.5 240.2 1021.1 242.0C1021.4 243.2 1021.8 244.4 1022.2 245.6C1023.2 249.1 1024.3 253.3 1025.4 256.3C1026.4 259.3 1027.5 262.0 1028.6 263.8C1029.7 265.6 1030.7 267.0 1031.8 267.0C1032.9 267.0 1033.9 265.4 1035.0 263.8C1036.1 262.2 1037.2 259.0 1038.2 257.4C1038.9 256.3 1039.7 254.7 1040.4 254.7C1041.1 254.7 1041.8 255.5 1042.5 257.4C1043.2 259.2 1043.9 262.5 1044.7 265.9C1045.4 269.3 1046.1 274.2 1046.8 277.7C1047.9 283.0 1048.9 286.7 1050.0 290.6C1051.1 294.5 1052.2 298.1 1053.2 301.3C1054.3 304.5 1055.4 307.8 1056.4 309.9C1057.5 311.9 1058.6 313.3 1059.7 313.6C1060.7 314.0 1061.8 312.8 1062.9 312.0C1063.9 311.2 1065.0 309.5 1066.1 308.8C1067.0 308.2 1067.9 306.7 1068.8 307.7C1069.3 308.3 1069.8 309.5 1070.4 310.9C1071.1 312.8 1071.8 316.1 1072.5 318.4C1073.6 322.0 1074.7 323.7 1075.7 328.1C1076.3 330.5 1076.9 334.0 1077.5 336.4C1078.9 342.3 1080.4 344.1 1081.8 347.2C1083.2 350.2 1084.6 353.0 1086.1 354.7C1087.1 355.9 1088.2 357.2 1089.3 356.8C1090.4 356.4 1091.4 353.6 1092.5 352.5C1093.4 351.6 1094.3 350.2 1095.2 350.4C1096.1 350.5 1097.0 351.9 1097.9 353.6C1098.9 355.6 1100.0 359.3 1101.1 362.2C1102.2 365.0 1103.2 368.2 1104.3 370.7C1105.4 373.2 1106.4 375.2 1107.5 377.2C1108.6 379.1 1109.7 381.4 1110.7 382.5C1111.8 383.7 1112.9 384.3 1113.9 384.1C1115.0 383.9 1116.1 382.3 1117.2 381.4C1118.2 380.6 1119.3 379.7 1120.4 379.3C1121.4 378.9 1122.5 378.4 1123.6 378.8C1124.7 379.1 1125.7 380.4 1126.8 381.4C1127.9 382.5 1128.9 384.6 1130.0 385.2C1130.9 385.7 1131.8 386.0 1132.7 385.2C1133.6 384.4 1134.5 382.8 1135.4 380.4C1136.3 378.0 1137.2 374.6 1138.1 370.7C1138.8 367.6 1139.5 363.2 1140.2 360.0C1140.9 356.8 1141.6 353.2 1142.3 351.4C1142.9 350.1 1143.4 349.2 1143.9 349.3C1144.7 349.4 1145.4 351.8 1146.1 353.6C1146.8 355.4 1147.5 358.2 1148.2 360.0C1149.3 362.8 1150.4 363.6 1151.4 366.4C1152.9 370.2 1154.3 377.9 1155.7 381.4C1158.5 388.3 1161.2 380.5 1163.9 386.4C1165.4 389.5 1166.8 395.5 1168.2 399.3C1169.6 403.0 1171.1 405.9 1172.5 408.9C1173.9 412.0 1175.4 414.7 1176.8 417.5C1178.0 420.0 1179.3 423.2 1180.5 425.0C1181.6 426.6 1182.7 427.4 1183.8 428.2C1185.4 429.5 1187.0 429.4 1188.6 430.4C1190.0 431.2 1191.4 432.0 1192.9 433.6C1194.3 435.2 1195.7 436.9 1197.2 440.0C1198.2 442.3 1199.3 447.2 1200.4 448.6C1201.4 450.0 1202.5 449.8 1203.6 448.6C1204.5 447.6 1205.4 445.1 1206.3 443.2C1207.0 441.7 1207.7 439.3 1208.4 438.4C1209.1 437.5 1209.8 437.2 1210.5 437.9C1211.4 438.7 1212.3 441.9 1213.2 444.3C1214.3 447.2 1215.4 451.4 1216.4 453.9C1217.5 456.5 1218.6 458.4 1219.7 459.8C1221.1 461.7 1222.5 461.5 1223.9 462.5C1225.4 463.5 1226.8 464.5 1228.2 465.7C1229.3 466.7 1230.4 468.9 1231.4 468.9C1232.3 469.0 1233.2 466.8 1234.1 466.8C1235.0 466.8 1235.9 467.9 1236.8 468.9C1237.9 470.2 1238.9 471.7 1240.0 474.0C1241.0 476.1 1242.0 479.8 1243.0 482.0C1244.3 484.9 1245.7 486.3 1247.0 488.0C1248.3 489.7 1249.7 491.7 1251.0 492.0C1252.3 492.3 1253.7 490.0 1255.0 490.0C1256.3 490.0 1257.7 491.3 1259.0 492.0C1260.3 492.7 1261.7 492.8 1263.0 494.0C1264.3 495.2 1265.7 498.0 1267.0 499.0C1268.7 500.3 1270.3 499.9 1272.0 500.0C1273.3 500.1 1274.7 498.2 1276.0 500.0C1277.2 501.6 1278.3 505.7 1279.5 509.0C1280.7 512.3 1281.8 518.0 1283.0 520.0C1284.0 521.7 1285.0 520.6 1286.0 521.5C1287.2 522.5 1288.3 524.2 1289.5 526.0C1291.2 528.6 1292.8 533.5 1294.5 536.0C1296.2 538.5 1297.8 539.1 1299.5 541.0C1301.2 542.9 1302.8 545.6 1304.5 547.5C1306.2 549.4 1307.8 551.1 1309.5 552.5C1311.2 553.9 1312.8 554.3 1314.5 556.0C1316.2 557.7 1317.8 560.0 1319.5 562.5C1321.0 564.7 1322.4 567.8 1323.9 570.0C1327.9 576.0 1331.9 578.0 1335.8 582.0C1339.8 586.0 1343.8 590.3 1347.8 594.0C1351.8 597.6 1355.8 600.8 1359.8 603.9C1363.8 607.1 1367.8 610.3 1371.8 612.9C1375.7 615.6 1379.7 617.8 1383.7 619.9C1387.7 622.0 1391.7 623.9 1395.7 625.5C1399.7 627.1 1403.7 628.5 1407.7 629.5C1411.0 630.3 1414.3 631.0 1417.7 631.3C1421.0 631.5 1424.3 631.2 1427.6 630.9C1431.3 630.5 1435.0 629.6 1438.6 628.9C1439.3 628.8 1440.0 628.6 1440.6 628.5" stroke="#dc00b4" stroke-width="2.25"/>
<path d="M214.3 409.7C214.9 409.7 215.4 409.7 216.0 409.7C235.4 409.7 254.9 409.0 274.3 408.2C295.7 407.4 317.2 406.5 338.6 405.0C360.0 403.6 381.5 401.7 402.9 399.5C417.2 398.0 431.5 396.2 445.8 394.5C460.1 392.8 474.3 391.1 488.6 389.2C495.8 388.2 502.9 387.3 510.1 386.2C516.7 385.1 523.4 383.7 530.0 382.5C540.7 380.6 551.4 378.3 562.2 377.2C572.9 376.0 583.6 375.8 594.3 375.7C605.0 375.6 615.7 376.4 626.5 376.5C637.2 376.7 647.9 377.1 658.6 376.5C669.3 375.9 680.0 375.6 690.8 372.9C697.9 371.1 705.0 368.4 712.2 365.4C719.3 362.3 726.5 358.3 733.6 354.7C744.3 349.2 755.1 342.7 765.8 337.5C776.5 332.3 787.2 329.3 797.9 323.6C805.1 319.8 812.2 315.5 819.4 310.7C824.4 307.4 829.4 302.1 834.4 300.0C837.2 298.8 840.1 296.6 842.9 297.9C843.4 298.1 843.8 298.4 844.3 298.6C846.1 299.6 847.9 299.9 849.6 300.8C851.8 301.8 853.9 303.4 856.1 304.5C858.2 305.6 860.4 306.5 862.5 307.2C864.6 307.9 866.8 308.4 868.9 308.6C871.1 308.8 873.2 308.8 875.4 308.6C877.9 308.3 880.4 307.6 882.9 306.7C885.0 305.8 887.2 304.9 889.3 303.4C891.4 302.0 893.6 300.2 895.7 298.1C897.9 295.9 900.0 293.1 902.2 290.6C904.3 288.1 906.4 285.4 908.6 283.1C910.7 280.8 912.9 278.3 915.0 276.7C916.8 275.3 918.6 274.0 920.4 273.4C921.8 273.0 923.2 273.0 924.7 273.2C926.1 273.4 927.5 273.8 928.9 274.5C930.7 275.4 932.5 276.8 934.3 278.3C936.1 279.7 937.9 281.6 939.7 283.1C941.5 284.6 943.2 286.2 945.0 287.4C946.8 288.5 948.6 289.4 950.4 290.0C952.2 290.7 954.0 291.2 955.7 291.1C957.2 291.0 958.6 290.9 960.0 290.0C961.5 289.2 962.9 288.0 964.3 286.3C965.7 284.6 967.2 281.9 968.6 279.9C970.0 277.8 971.5 275.4 972.9 274.0C974.0 272.9 975.0 272.0 976.1 271.8C977.0 271.7 977.9 271.6 978.8 272.4C979.7 273.2 980.6 274.9 981.5 276.7C982.5 278.7 983.6 281.7 984.7 284.2C986.1 287.4 987.5 290.9 989.0 293.8C990.4 296.7 991.8 299.2 993.2 301.3C994.7 303.4 996.1 305.1 997.5 306.7C997.9 307.0 998.2 307.4 998.6 307.7C1000.4 309.4 1002.1 310.1 1003.9 310.4C1005.7 310.8 1007.5 309.5 1009.3 309.9C1010.7 310.2 1012.1 310.6 1013.6 312.0C1015.0 313.4 1016.4 316.1 1017.9 318.4C1019.3 320.8 1020.7 323.7 1022.2 325.9C1023.9 328.8 1025.7 331.4 1027.5 333.5C1029.3 335.5 1031.1 337.1 1032.9 338.3C1033.9 339.0 1035.0 339.5 1036.0 340.0C1038.3 341.1 1040.7 341.4 1043.0 342.0C1045.2 342.6 1047.3 342.6 1049.5 343.5C1051.3 344.2 1053.2 345.5 1055.0 346.5C1057.1 347.7 1059.1 350.5 1061.2 350.2C1062.5 350.0 1063.7 349.5 1065.0 348.0C1066.2 346.6 1067.3 345.2 1068.5 341.8C1069.5 338.9 1070.5 334.2 1071.5 330.2C1072.0 328.2 1072.5 323.3 1073.0 324.0C1073.4 324.6 1073.9 329.8 1074.3 332.2C1075.7 340.1 1077.2 341.5 1078.6 345.0C1080.4 349.4 1082.1 352.0 1083.9 354.7C1085.3 356.9 1086.8 358.8 1088.2 360.0C1089.3 360.9 1090.3 361.7 1091.4 361.6C1092.5 361.5 1093.6 361.1 1094.7 359.5C1095.8 358.0 1096.8 354.3 1097.9 352.5C1098.8 351.1 1099.6 349.2 1100.5 349.3C1101.4 349.4 1102.3 351.2 1103.2 353.6C1104.3 356.5 1105.3 362.6 1106.4 366.5C1107.5 370.5 1108.6 374.0 1109.7 377.2C1110.8 380.3 1111.8 383.2 1112.9 385.7C1113.8 387.8 1114.7 390.0 1115.6 391.1C1116.5 392.1 1117.3 392.5 1118.2 392.2C1119.1 391.9 1120.0 391.0 1120.9 389.0C1121.8 387.0 1122.7 384.1 1123.6 380.4C1124.5 376.6 1125.4 371.3 1126.3 366.5C1127.2 361.7 1128.1 355.9 1129.0 351.4C1129.9 347.0 1130.7 342.9 1131.6 339.7C1132.3 337.0 1133.1 334.4 1133.8 333.2C1134.3 332.3 1134.9 331.9 1135.4 332.2C1136.1 332.6 1136.8 335.0 1137.5 336.4C1138.6 338.5 1139.6 341.1 1140.7 342.9C1142.1 345.3 1143.6 345.5 1145.0 348.2C1146.1 350.2 1147.1 353.2 1148.2 355.7C1149.3 358.2 1150.3 361.6 1151.4 363.2C1152.5 364.9 1153.6 365.8 1154.7 365.4C1155.6 365.1 1156.5 363.7 1157.4 362.2C1158.3 360.8 1159.1 358.0 1160.0 356.8C1160.7 355.8 1161.5 354.9 1162.2 355.2C1162.9 355.5 1163.6 356.3 1164.3 358.4C1165.0 360.6 1165.8 364.5 1166.5 368.6C1167.4 373.8 1168.4 383.3 1169.3 387.5C1170.4 392.3 1171.4 392.5 1172.5 393.9C1173.6 395.3 1174.6 395.7 1175.7 396.1C1176.8 396.5 1177.8 395.3 1178.9 396.1C1180.0 397.0 1181.1 399.2 1182.2 401.4C1183.3 403.5 1184.3 406.4 1185.4 408.9C1186.5 411.4 1187.5 414.1 1188.6 416.4C1189.7 418.7 1190.7 420.9 1191.8 422.9C1192.9 424.9 1193.9 425.9 1195.0 428.2C1196.1 430.5 1197.1 433.6 1198.2 436.8C1199.1 439.5 1200.0 443.1 1200.9 445.4C1201.6 447.2 1202.4 449.6 1203.1 449.7C1203.8 449.8 1204.5 448.1 1205.2 446.5C1205.9 444.9 1206.6 441.6 1207.3 440.0C1208.0 438.3 1208.8 436.9 1209.5 436.8C1210.2 436.7 1210.9 437.7 1211.6 439.0C1212.5 440.6 1213.4 444.1 1214.3 446.5C1215.4 449.4 1216.4 452.7 1217.5 455.0C1218.6 457.3 1219.6 459.3 1220.7 460.4C1221.8 461.5 1222.8 461.1 1223.9 461.4C1225.0 461.8 1226.1 461.9 1227.2 462.5C1228.3 463.0 1229.3 464.0 1230.4 464.7C1231.5 465.4 1232.5 466.6 1233.6 466.8C1234.7 467.0 1235.7 464.9 1236.8 465.7C1237.5 466.2 1238.3 467.1 1239.0 469.0C1239.7 470.8 1240.4 473.9 1241.1 476.5C1241.7 478.9 1242.4 481.8 1243.0 484.0C1244.0 487.5 1245.0 489.9 1246.0 492.0C1247.3 494.7 1248.7 496.2 1250.0 497.0C1251.3 497.8 1252.7 497.3 1254.0 497.0C1255.3 496.7 1256.7 494.8 1258.0 495.0C1259.3 495.2 1260.7 496.2 1262.0 498.0C1263.7 500.3 1265.5 505.5 1267.2 509.0C1269.1 512.9 1271.1 516.4 1273.0 520.0C1275.0 523.7 1277.0 527.4 1279.0 530.8C1281.8 535.6 1284.6 539.1 1287.4 544.2C1289.6 548.3 1291.9 554.1 1294.1 557.7C1295.8 560.4 1297.4 563.8 1299.1 564.4C1300.8 565.0 1302.5 560.5 1304.2 561.1C1305.3 561.5 1306.4 562.2 1307.5 564.4C1308.6 566.6 1309.8 571.4 1310.9 574.5C1311.9 577.2 1312.9 579.8 1313.9 582.0C1315.9 586.4 1317.9 589.3 1319.9 592.0C1321.9 594.6 1323.9 595.3 1325.8 597.9C1327.8 600.6 1329.8 604.6 1331.8 607.9C1333.8 611.3 1335.8 614.7 1337.8 617.9C1340.5 622.1 1343.1 625.9 1345.8 629.9C1348.5 633.9 1351.1 637.9 1353.8 641.9C1356.5 645.8 1359.1 650.5 1361.8 653.8C1364.4 657.2 1367.1 659.4 1369.8 661.8C1373.1 664.8 1376.4 667.5 1379.7 669.8C1383.1 672.1 1386.4 674.1 1389.7 675.8C1393.0 677.5 1396.4 678.6 1399.7 679.8C1403.0 680.9 1406.4 682.0 1409.7 682.8C1413.0 683.5 1416.3 684.0 1419.7 684.2C1423.0 684.3 1426.3 684.4 1429.6 683.8C1432.6 683.2 1435.6 682.2 1438.6 680.8C1439.3 680.5 1440.0 680.1 1440.6 679.8" stroke="#b400dc" stroke-width="2.25"/>
<path d="M214.3 402.2C214.9 402.2 215.4 402.2 216.0 402.2C235.4 402.2 254.9 401.7 274.3 401.2C295.7 400.6 317.2 400.0 338.6 399.0C360.0 398.1 381.5 397.1 402.9 395.6C417.2 394.6 431.5 393.5 445.8 392.2C460.1 390.8 474.3 389.4 488.6 387.7C495.8 386.8 502.9 386.0 510.1 384.9C516.7 383.9 523.4 382.7 530.0 381.4C544.3 378.8 558.6 375.5 572.9 372.5C587.2 369.4 601.4 366.0 615.7 363.2C630.0 360.4 644.3 359.0 658.6 355.7C669.3 353.3 680.0 350.9 690.8 347.2C697.9 344.7 705.0 342.0 712.2 338.6C719.3 335.2 726.5 330.4 733.6 326.8C740.8 323.2 747.9 319.2 755.1 317.2C758.6 316.1 762.2 315.4 765.8 315.0C771.5 314.4 777.2 315.4 782.9 316.1C788.6 316.7 794.3 319.2 800.1 318.9C805.1 318.6 810.1 317.4 815.1 315.0C820.1 312.6 825.1 309.2 830.1 304.3C833.4 301.0 836.7 297.6 840.0 292.7C842.1 289.6 844.3 286.3 846.4 282.0C848.6 277.7 850.7 272.1 852.9 267.0C854.6 262.8 856.4 257.9 858.2 254.1C859.6 251.1 861.1 247.9 862.5 246.1C863.6 244.7 864.6 243.9 865.7 243.4C866.8 242.9 867.9 242.9 868.9 243.2C870.0 243.6 871.1 244.7 872.2 245.6C873.6 246.8 875.0 248.4 876.4 249.9C878.2 251.6 880.0 253.7 881.8 255.2C883.6 256.7 885.4 257.9 887.2 259.0C889.3 260.2 891.4 260.9 893.6 261.6C895.7 262.4 897.9 262.7 900.0 263.3C902.2 263.8 904.3 264.2 906.4 264.9C908.6 265.5 910.7 266.3 912.9 267.0C915.0 267.7 917.2 268.6 919.3 269.2C921.4 269.7 923.6 270.1 925.7 270.0C927.5 270.0 929.3 269.7 931.1 269.2C932.9 268.6 934.7 267.5 936.5 266.5C938.2 265.4 940.0 263.6 941.8 262.7C943.2 262.0 944.7 261.4 946.1 261.1C947.5 260.8 949.0 260.7 950.4 261.1C951.5 261.4 952.5 262.0 953.6 262.7C955.0 263.7 956.5 265.6 957.9 267.0C959.7 268.8 961.5 270.9 963.2 272.4C965.0 273.8 966.8 275.0 968.6 275.8C970.4 276.6 972.2 277.0 974.0 277.0C975.4 277.0 976.8 276.4 978.2 276.1C979.7 275.8 981.1 274.9 982.5 275.0C983.8 275.2 985.0 275.5 986.3 276.7C987.5 277.8 988.8 279.7 990.0 282.0C991.5 284.6 992.9 288.1 994.3 291.7C996.1 296.1 997.9 302.6 999.6 306.7C1001.4 310.8 1003.2 313.7 1005.0 316.3C1006.8 318.9 1008.6 321.0 1010.4 322.2C1012.0 323.3 1013.6 323.9 1015.2 323.8C1016.8 323.7 1018.4 323.3 1020.0 321.7C1021.4 320.2 1022.9 318.1 1024.3 315.2C1025.7 312.4 1027.2 308.4 1028.6 304.5C1030.0 300.6 1031.4 295.8 1032.9 291.7C1033.8 289.1 1034.7 285.6 1035.5 284.2C1036.1 283.3 1036.6 282.4 1037.2 282.5C1037.7 282.7 1038.2 283.8 1038.8 285.2C1039.7 287.6 1040.5 293.0 1041.4 297.0C1042.5 301.9 1043.6 307.7 1044.7 312.0C1045.7 316.3 1046.8 319.9 1047.9 322.7C1049.3 326.5 1050.7 328.4 1052.2 330.2C1053.6 332.1 1055.0 333.4 1056.4 334.0C1057.5 334.4 1058.6 334.6 1059.7 334.3C1061.1 334.0 1062.5 332.4 1063.9 331.3C1065.4 330.2 1066.8 328.4 1068.2 327.6C1069.1 327.0 1070.0 326.4 1070.9 326.5C1071.7 326.6 1072.4 327.1 1073.2 327.9C1074.3 329.0 1075.4 331.2 1076.4 333.2C1077.9 336.0 1079.3 340.0 1080.7 342.9C1082.1 345.7 1083.6 348.3 1085.0 350.4C1086.4 352.4 1087.9 354.1 1089.3 355.2C1090.7 356.3 1092.1 356.9 1093.6 356.8C1095.0 356.7 1096.4 356.3 1097.9 354.7C1099.3 353.0 1100.7 350.3 1102.2 347.2C1103.4 344.4 1104.7 340.2 1105.9 337.5C1106.8 335.6 1107.7 333.6 1108.6 332.7C1109.3 331.9 1110.0 331.3 1110.7 331.6C1111.4 331.9 1112.2 332.4 1112.9 334.3C1113.6 336.2 1114.3 339.9 1115.0 342.9C1115.9 346.6 1116.8 351.3 1117.7 354.7C1118.6 358.0 1119.5 361.0 1120.4 363.2C1121.4 365.9 1122.5 367.6 1123.6 368.6C1124.7 369.6 1125.7 369.7 1126.8 369.1C1127.9 368.6 1128.9 367.2 1130.0 365.4C1131.1 363.5 1132.2 360.7 1133.2 357.9C1134.3 355.0 1135.4 351.0 1136.4 348.2C1137.3 345.9 1138.2 343.3 1139.1 342.3C1139.7 341.8 1140.2 341.6 1140.7 341.8C1141.4 342.1 1142.2 343.0 1142.9 345.0C1143.9 348.0 1145.0 355.4 1146.1 360.0C1147.2 364.7 1148.2 369.7 1149.3 372.9C1150.4 376.1 1151.4 377.7 1152.5 379.3C1153.9 381.5 1155.4 382.9 1156.8 383.1C1157.9 383.1 1158.9 382.6 1160.0 381.4C1161.1 380.3 1162.2 377.0 1163.2 376.1C1164.1 375.3 1165.0 375.0 1165.9 375.6C1166.8 376.1 1167.7 377.5 1168.6 379.3C1169.7 381.4 1170.7 385.6 1171.8 387.9C1172.9 390.2 1174.0 392.0 1175.0 393.2C1176.3 394.7 1177.6 393.8 1178.9 395.0C1180.0 396.0 1181.1 397.1 1182.2 399.3C1183.2 401.4 1184.3 404.8 1185.4 407.9C1186.4 410.9 1187.5 414.4 1188.6 417.5C1189.5 420.1 1190.4 423.4 1191.3 425.0C1192.2 426.6 1193.0 427.2 1193.9 427.2C1194.8 427.2 1195.7 425.6 1196.6 425.0C1197.3 424.6 1198.0 423.3 1198.8 423.9C1199.3 424.4 1199.8 425.6 1200.4 427.2C1201.1 429.2 1201.8 433.1 1202.5 435.7C1203.4 439.0 1204.3 441.9 1205.2 444.3C1206.3 447.1 1207.3 448.7 1208.4 450.7C1209.7 453.1 1210.9 454.6 1212.2 457.2C1213.2 459.4 1214.3 462.2 1215.4 464.7C1216.4 467.2 1217.5 470.2 1218.6 472.2C1219.7 474.1 1220.7 475.4 1221.8 476.5C1222.7 477.3 1223.6 478.2 1224.5 478.1C1225.4 477.9 1226.3 477.1 1227.2 475.4C1228.1 473.7 1228.9 470.2 1229.8 467.9C1230.6 466.0 1231.3 463.6 1232.0 462.5C1232.5 461.7 1233.1 461.1 1233.6 461.4C1234.1 461.8 1234.7 462.9 1235.2 464.7C1235.7 466.4 1236.3 469.5 1236.8 472.2C1237.4 475.2 1238.0 479.0 1238.6 482.1C1239.8 487.8 1240.9 493.4 1242.0 497.2C1243.1 501.0 1244.2 503.2 1245.4 504.8C1246.8 506.8 1248.2 506.6 1249.6 506.4C1251.0 506.3 1252.4 505.5 1253.8 503.9C1254.9 502.7 1256.0 500.0 1257.1 498.9C1258.2 497.8 1259.4 496.6 1260.5 497.2C1261.3 497.7 1262.2 498.6 1263.0 500.6C1263.8 502.5 1264.7 506.6 1265.5 509.0C1266.6 512.1 1267.8 514.0 1268.9 515.7C1270.0 517.4 1271.1 517.1 1272.2 519.0C1273.4 521.0 1274.5 524.9 1275.6 527.4C1276.7 530.0 1277.8 532.6 1279.0 534.2C1280.1 535.7 1281.2 535.8 1282.3 536.7C1283.4 537.5 1284.6 536.7 1285.7 539.2C1286.5 541.1 1287.4 544.7 1288.2 547.6C1289.3 551.4 1290.4 556.1 1291.6 559.4C1292.7 562.6 1293.8 565.1 1294.9 566.9C1296.0 568.7 1297.2 570.3 1298.3 570.3C1299.4 570.3 1300.5 567.8 1301.6 566.9C1302.5 566.2 1303.3 564.3 1304.2 565.2C1305.0 566.2 1305.8 560.2 1306.7 572.8C1306.8 573.8 1306.8 575.0 1306.9 576.0C1308.5 601.7 1310.2 588.7 1311.9 592.0C1313.2 594.6 1314.5 595.3 1315.9 595.9C1317.5 596.7 1319.2 592.6 1320.9 595.0C1321.9 596.3 1322.9 598.8 1323.9 601.9C1324.9 605.1 1325.8 611.3 1326.8 613.9C1327.8 616.6 1328.8 617.0 1329.8 617.9C1331.2 619.1 1332.5 617.2 1333.8 618.9C1335.2 620.6 1336.5 624.7 1337.8 627.9C1339.2 631.0 1340.5 635.2 1341.8 637.9C1343.1 640.5 1344.5 641.9 1345.8 643.9C1347.1 645.8 1348.5 646.8 1349.8 649.8C1351.1 652.8 1352.5 659.5 1353.8 661.8C1355.1 664.1 1356.5 662.3 1357.8 663.8C1359.1 665.3 1360.4 668.6 1361.8 670.8C1363.1 673.0 1364.4 675.6 1365.8 676.8C1367.1 678.0 1368.4 677.0 1369.8 677.8C1371.1 678.6 1372.4 680.6 1373.8 681.8C1375.7 683.5 1377.7 684.6 1379.7 685.8C1380.2 686.1 1380.7 686.3 1381.2 686.6C1381.7 686.9 1382.2 687.2 1382.7 687.5C1383.2 687.7 1383.7 688.0 1384.2 688.2C1384.7 688.4 1385.2 688.7 1385.7 688.8C1386.2 688.9 1386.6 688.9 1387.1 688.9C1387.5 688.8 1387.9 688.6 1388.4 688.6C1388.8 688.5 1389.3 688.5 1389.7 688.6C1390.2 688.8 1390.6 689.3 1391.1 689.6C1391.5 690.0 1391.9 690.6 1392.4 691.0C1392.8 691.3 1393.3 691.6 1393.7 691.8C1394.2 692.0 1394.8 691.9 1395.3 691.9C1395.8 692.0 1396.4 692.1 1396.9 692.1C1397.4 692.1 1398.0 692.0 1398.5 691.8C1399.0 691.6 1399.6 691.1 1400.1 690.9C1400.6 690.7 1401.2 690.6 1401.7 690.6C1402.2 690.6 1402.8 690.9 1403.3 690.9C1403.8 690.9 1404.4 690.7 1404.9 690.6C1405.4 690.5 1406.0 690.2 1406.5 690.2C1407.0 690.2 1407.6 690.5 1408.1 690.6C1408.6 690.7 1409.1 690.8 1409.7 690.7C1410.2 690.6 1410.6 690.2 1411.1 690.0C1411.6 689.9 1412.1 689.8 1412.5 689.8C1413.0 689.8 1413.5 690.2 1414.0 690.2C1414.4 690.3 1414.9 690.3 1415.4 690.1C1415.9 690.0 1416.3 689.6 1416.8 689.4C1417.3 689.3 1417.8 689.2 1418.2 689.2C1418.7 689.3 1419.2 689.6 1419.7 689.7C1420.1 689.7 1420.6 689.6 1421.1 689.5C1421.6 689.3 1422.0 688.9 1422.5 688.8C1423.0 688.6 1423.5 688.6 1423.9 688.7C1424.4 688.7 1424.9 689.1 1425.4 689.1C1425.8 689.1 1426.3 689.0 1426.8 688.8C1427.3 688.7 1427.7 688.2 1428.2 688.1C1428.7 687.9 1429.2 687.9 1429.6 688.0C1430.1 688.0 1430.6 688.3 1431.1 688.3C1431.6 688.2 1432.1 688.0 1432.6 687.8C1433.1 687.6 1433.6 687.1 1434.1 687.0C1434.6 686.9 1435.1 687.0 1435.6 687.0C1436.1 687.0 1436.6 687.2 1437.1 687.1C1437.6 686.9 1438.1 686.4 1438.6 686.1C1439.3 685.7 1440.0 685.4 1440.6 685.1" stroke="#0000f0" stroke-width="2.25"/>
<path d="M214.3 482.2C214.9 482.2 215.4 482.2 216.0 482.2C228.3 482.2 240.6 481.8 252.9 481.5C267.2 481.2 281.4 480.9 295.7 480.5C317.2 479.8 338.6 478.8 360.0 477.9C381.5 477.0 402.9 476.4 424.3 474.9C433.5 474.3 442.6 473.6 451.8 472.8C460.5 471.9 469.2 471.1 477.9 470.0C483.5 469.3 489.1 468.5 494.6 467.6C501.2 466.5 507.8 465.3 514.4 464.0C519.6 462.9 524.8 461.8 530.0 460.5C537.1 458.8 544.3 456.4 551.4 454.3C565.7 450.1 580.0 445.9 594.3 441.5C608.6 437.0 622.9 432.9 637.2 427.5C651.5 422.2 665.7 416.3 680.0 409.3C694.3 402.4 708.6 394.6 722.9 385.7C730.0 381.3 737.2 376.6 744.3 371.8C751.5 367.0 758.6 360.7 765.8 356.8C770.8 354.1 775.8 352.0 780.8 350.4C786.5 348.5 792.2 348.2 797.9 346.7C802.9 345.5 807.9 344.6 812.9 342.4C818.6 340.0 824.4 337.6 830.1 332.2C833.4 329.0 836.7 325.1 840.0 320.6C842.1 317.7 844.3 314.7 846.4 310.9C848.6 307.2 850.7 303.1 852.9 298.1C854.6 293.9 856.4 288.8 858.2 284.2C860.0 279.5 861.8 274.2 863.6 270.2C865.4 266.2 867.1 262.4 868.9 260.0C870.4 258.2 871.8 257.3 873.2 256.5C875.0 255.5 876.8 255.6 878.6 255.4C880.7 255.2 882.9 255.8 885.0 255.4C886.8 255.1 888.6 254.7 890.4 253.6C892.2 252.5 893.9 251.0 895.7 248.8C897.2 247.0 898.6 244.6 900.0 242.4C901.1 240.6 902.2 240.6 903.2 237.0C904.3 233.4 905.4 225.9 906.4 220.7C907.9 213.8 909.3 208.8 910.7 201.4C911.8 195.9 912.9 189.0 913.9 183.2C914.7 179.4 915.4 173.7 916.1 172.0C916.4 171.1 916.8 170.8 917.2 170.9C917.7 171.1 918.2 172.8 918.8 174.7C919.7 177.7 920.6 184.0 921.4 188.6C922.5 194.1 923.6 200.0 924.7 204.7C925.7 209.3 926.8 213.2 927.9 216.4C928.9 219.7 930.0 222.0 931.1 223.9C932.2 225.9 933.2 227.2 934.3 228.2C935.7 229.6 937.2 230.2 938.6 230.2C940.0 230.2 941.5 229.4 942.9 228.2C944.3 227.0 945.7 224.8 947.2 222.9C948.6 220.9 950.0 218.3 951.5 216.4C952.9 214.6 954.3 212.6 955.7 211.6C956.8 210.9 957.9 210.5 959.0 210.6C960.4 210.7 961.8 212.2 963.2 213.2C964.7 214.2 966.1 215.9 967.5 216.7C969.0 217.5 970.4 218.0 971.8 218.1C973.2 218.1 974.7 218.1 976.1 217.0C977.5 215.8 979.0 213.7 980.4 211.1C981.8 208.5 983.2 204.0 984.7 201.4C985.7 199.6 986.8 197.5 987.9 196.9C988.6 196.6 989.3 196.5 990.0 197.2C991.1 198.1 992.2 201.0 993.2 203.6C994.7 207.0 996.1 213.1 997.5 216.1C998.9 219.1 1000.4 220.4 1001.8 221.4C1002.9 222.2 1003.9 222.6 1005.0 222.5C1006.4 222.4 1007.9 221.4 1009.3 219.8C1010.7 218.2 1012.1 215.0 1013.6 212.9C1014.6 211.3 1015.7 209.4 1016.8 208.6C1017.5 208.0 1018.2 207.6 1018.9 207.7C1020.0 207.9 1021.1 209.6 1022.2 210.7C1023.6 212.3 1025.0 214.9 1026.4 216.1C1027.5 217.0 1028.6 217.9 1029.7 217.7C1030.7 217.5 1031.8 216.6 1032.9 215.0C1033.8 213.7 1034.7 210.9 1035.5 209.7C1036.0 209.0 1036.5 208.1 1036.9 208.1C1037.5 208.0 1038.2 208.2 1038.8 210.7C1039.3 213.0 1039.8 218.0 1040.4 221.4C1041.1 226.0 1041.8 231.7 1042.5 234.3C1042.9 235.6 1043.2 235.6 1043.6 237.0C1044.3 239.7 1045.0 246.3 1045.7 250.9C1046.4 255.6 1047.2 260.8 1047.9 264.9C1048.6 269.0 1049.3 272.7 1050.0 275.6C1050.9 279.2 1051.8 280.9 1052.7 283.1C1053.8 285.7 1054.8 287.9 1055.9 289.5C1057.2 291.4 1058.4 292.5 1059.7 293.3C1061.1 294.1 1062.5 293.7 1063.9 293.8C1065.0 293.9 1066.1 293.1 1067.2 293.8C1068.1 294.4 1068.9 295.0 1069.8 297.0C1070.7 299.0 1071.6 302.2 1072.5 305.6C1073.8 310.5 1075.1 318.7 1076.4 323.6C1077.5 327.6 1078.6 330.4 1079.6 333.2C1080.7 336.1 1081.8 338.8 1082.9 340.7C1083.9 342.7 1085.0 344.0 1086.1 345.0C1087.5 346.3 1088.9 346.7 1090.4 346.6C1091.8 346.5 1093.2 345.2 1094.6 344.5C1095.7 343.9 1096.8 343.0 1097.9 342.9C1098.9 342.8 1100.0 343.0 1101.1 343.9C1102.2 344.8 1103.2 346.4 1104.3 348.2C1105.4 350.0 1106.4 352.7 1107.5 354.7C1108.6 356.6 1109.7 358.5 1110.7 360.0C1111.8 361.5 1112.9 363.0 1113.9 363.8C1115.0 364.6 1116.1 364.8 1117.2 364.8C1118.6 364.9 1120.0 363.9 1121.4 363.2C1122.9 362.5 1124.3 361.4 1125.7 360.5C1127.2 359.7 1128.6 359.0 1130.0 357.9C1131.4 356.7 1132.9 355.8 1134.3 353.6C1135.4 351.9 1136.4 349.1 1137.5 347.2C1138.2 345.8 1138.9 343.9 1139.7 343.4C1140.2 343.0 1140.7 342.9 1141.3 343.4C1142.0 344.1 1142.7 346.0 1143.4 348.2C1144.1 350.5 1144.8 354.1 1145.6 356.8C1146.4 360.2 1147.3 363.9 1148.2 366.4C1149.1 368.9 1150.0 370.6 1150.9 371.8C1151.8 373.0 1152.7 373.4 1153.6 373.4C1154.5 373.4 1155.4 372.7 1156.3 371.8C1157.0 371.1 1157.7 369.5 1158.4 369.1C1159.1 368.8 1159.8 368.2 1160.6 369.7C1161.1 370.7 1161.6 372.8 1162.2 375.0C1162.9 377.9 1163.6 382.5 1164.3 385.7C1165.0 388.9 1165.7 392.3 1166.5 394.3C1166.9 395.6 1167.4 396.3 1167.9 397.2C1169.3 399.8 1170.7 402.3 1172.2 403.6C1174.0 405.2 1175.7 402.7 1177.5 404.7C1178.6 405.9 1179.7 407.3 1180.7 410.0C1181.8 412.7 1182.9 417.9 1184.0 420.7C1185.0 423.6 1186.1 425.4 1187.2 427.2C1188.6 429.6 1190.0 429.9 1191.5 432.5C1192.5 434.5 1193.6 437.2 1194.7 440.0C1195.7 442.9 1196.8 446.8 1197.9 449.7C1199.0 452.5 1200.0 456.3 1201.1 457.2C1202.1 458.0 1203.2 456.5 1204.2 455.2C1205.3 453.8 1206.4 449.9 1207.6 448.5C1208.4 447.4 1209.2 446.0 1210.1 446.8C1210.9 447.6 1211.8 450.7 1212.6 453.5C1213.4 456.3 1214.3 461.1 1215.1 463.6C1216.2 467.0 1217.4 468.8 1218.5 469.5C1219.6 470.2 1220.7 468.6 1221.8 467.8C1223.0 467.0 1224.1 464.5 1225.2 464.4C1226.0 464.4 1226.9 465.0 1227.7 466.1C1228.8 467.6 1230.0 471.3 1231.1 473.7C1232.2 476.1 1233.3 478.0 1234.4 480.4C1235.6 482.8 1236.7 486.0 1237.8 488.0C1239.2 490.5 1240.6 492.0 1242.0 493.0C1244.2 494.7 1246.5 490.3 1248.7 493.0C1249.6 494.0 1250.4 495.4 1251.2 497.2C1252.1 499.0 1252.9 502.2 1253.8 503.9C1254.9 506.2 1256.0 507.0 1257.1 508.1C1258.8 509.8 1260.5 510.2 1262.2 511.5C1263.8 512.7 1265.5 513.8 1267.2 515.7C1268.6 517.3 1270.0 517.6 1271.4 521.6C1272.2 523.9 1273.1 527.3 1273.9 530.8C1274.8 534.3 1275.6 538.6 1276.4 542.6C1277.3 546.5 1278.1 551.0 1279.0 554.3C1279.8 557.7 1280.6 560.9 1281.5 562.7C1282.3 564.5 1283.2 564.7 1284.0 565.2C1284.8 565.8 1285.7 564.0 1286.5 566.1C1287.1 567.5 1287.6 569.7 1288.2 572.8C1288.8 575.9 1289.3 580.8 1289.9 584.6C1290.9 591.4 1291.9 600.0 1292.9 603.9C1293.9 607.8 1294.9 608.9 1295.9 607.9C1296.9 606.9 1297.9 600.0 1298.9 597.9C1299.4 597.0 1299.8 595.4 1300.3 595.9C1301.0 596.8 1301.6 602.3 1302.3 605.9C1303.2 610.7 1304.0 618.2 1304.9 621.9C1305.9 626.1 1306.9 626.5 1307.9 627.9C1308.5 628.8 1309.2 627.8 1309.9 629.9C1310.7 632.4 1311.5 640.0 1312.3 643.9C1313.1 648.1 1314.0 652.2 1314.9 653.8C1315.7 655.5 1316.6 654.6 1317.5 653.8C1318.3 653.1 1319.1 649.1 1319.9 649.8C1320.5 650.4 1321.2 653.4 1321.9 655.8C1322.9 659.5 1323.9 666.1 1324.9 669.8C1325.8 673.5 1326.8 676.1 1327.8 677.8C1328.5 678.9 1329.2 677.8 1329.8 679.8C1330.5 681.8 1331.2 686.3 1331.8 689.8C1332.8 694.9 1333.8 701.6 1334.8 705.7C1335.8 709.9 1336.8 712.9 1337.8 714.7C1338.8 716.5 1339.8 716.4 1340.8 716.7C1341.8 717.0 1342.8 715.2 1343.8 716.7C1344.8 718.2 1345.8 723.2 1346.8 725.7C1347.8 728.2 1348.8 730.2 1349.8 731.7C1350.8 733.2 1351.8 731.6 1352.8 734.7C1353.5 736.7 1354.1 741.2 1354.8 743.7C1355.5 746.1 1356.1 748.1 1356.8 749.6C1357.5 751.1 1358.1 752.8 1358.8 752.6C1359.4 752.5 1360.1 749.5 1360.8 748.6C1361.4 747.7 1362.1 747.1 1362.8 747.2C1363.6 747.4 1364.5 748.8 1365.4 750.6C1366.2 752.4 1367.0 755.3 1367.8 757.6" stroke="#000000" stroke-width="3.8"/>
</g>
<g font-size="48" text-anchor="end">
<text transform="translate(158.8,772.0) scale(1,1.07)"><tspan dy="4.4">−</tspan><tspan dy="-4.4">30</tspan></text>
<text transform="translate(158.8,712.0) scale(1,1.07)"><tspan dy="4.4">−</tspan><tspan dy="-4.4">20</tspan></text>
<text transform="translate(158.8,652.0) scale(1,1.07)"><tspan dy="4.4">−</tspan><tspan dy="-4.4">10</tspan></text>
<text transform="translate(158.8,592.0) scale(1,1.07)">0</text>
<text transform="translate(158.8,532.0) scale(1,1.07)">10</text>
<text transform="translate(158.8,472.0) scale(1,1.07)">20</text>
<text transform="translate(158.8,412.0) scale(1,1.07)">30</text>
<text transform="translate(158.8,352.0) scale(1,1.07)">40</text>
<text transform="translate(158.8,292.0) scale(1,1.07)">50</text>
<text transform="translate(158.8,232.0) scale(1,1.07)">60</text>
<text transform="translate(158.8,172.0) scale(1,1.07)">70</text>
<text transform="translate(158.8,112.0) scale(1,1.07)">80</text>
<text transform="translate(158.8,52.0) scale(1,1.07)">90</text>
</g>
<g font-size="48" text-anchor="middle">
<text transform="translate(574.3,844.9) scale(0.975,1.07)">10</text>
<text transform="translate(1084.3,844.9) scale(0.972,1.07)">100</text>
</g>
<text transform="translate(244.4,725.2) scale(1.0075,1.02)" font-size="48">Ending 2025<tspan dy="4.4">−</tspan><tspan dy="-4.4">11</tspan><tspan dy="4.4">−</tspan><tspan dy="-4.4">03 09:59:59</tspan></text>
<text transform="translate(828.5,920) scale(1,1.02)" font-size="64" text-anchor="middle">Freq [mHz]</text>
<text transform="translate(50.3,394.3) rotate(-90) scale(1,1.035)" font-size="64" text-anchor="middle">Power [dB]</text>
</svg></body></html>
